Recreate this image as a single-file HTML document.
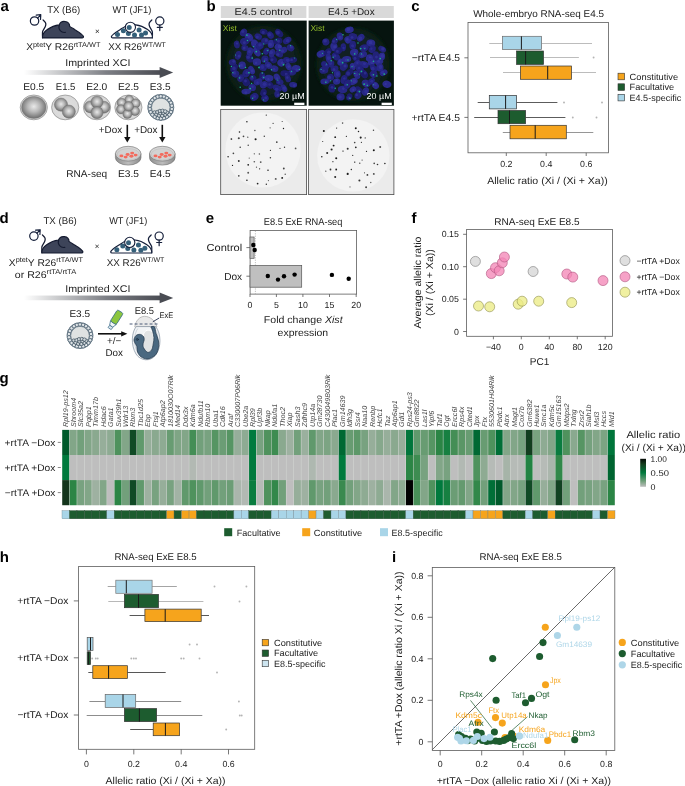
<!DOCTYPE html>
<html lang="en">
<head>
<meta charset="utf-8">
<title>Figure: Xist induction and imprinted XCI</title>
<style>
html,body{margin:0;padding:0;background:#fff;}
body{width:685px;height:786px;overflow:hidden;}
svg{display:block;font-family:"Liberation Sans",sans-serif;}
</style>
</head>
<body>
<svg width="685" height="786" viewBox="0 0 685 786" text-rendering="geometricPrecision">
<defs>
<linearGradient id="garrow" x1="0" y1="0" x2="1" y2="0">
<stop offset="0" stop-color="#ffffff"/><stop offset="0.25" stop-color="#c9cacc"/><stop offset="0.6" stop-color="#7d7f85"/><stop offset="1" stop-color="#4a4c53"/></linearGradient>
<radialGradient id="gcell" cx="0.5" cy="0.46" r="0.56"><stop offset="0" stop-color="#e9e9e9"/><stop offset="0.45" stop-color="#b8b8b8"/><stop offset="1" stop-color="#696969"/></radialGradient>
<radialGradient id="gzona" cx="0.5" cy="0.5" r="0.5"><stop offset="0" stop-color="#e0e0e0"/><stop offset="0.9" stop-color="#dadada"/><stop offset="1" stop-color="#cfcfcf"/></radialGradient>
<linearGradient id="gdish" x1="0" y1="0" x2="1" y2="0"><stop offset="0" stop-color="#8d8d8d"/><stop offset="0.5" stop-color="#bdbdbd"/><stop offset="1" stop-color="#8a8a8a"/></linearGradient>
<radialGradient id="gdishtop" cx="0.5" cy="0.45" r="0.6"><stop offset="0" stop-color="#ececec"/><stop offset="1" stop-color="#c9c9c9"/></radialGradient>

<filter id="blur1" x="-20%" y="-20%" width="140%" height="140%"><feGaussianBlur stdDeviation="0.75"/></filter>
<filter id="blur05" x="-30%" y="-30%" width="160%" height="160%"><feGaussianBlur stdDeviation="0.45"/></filter>
<filter id="blur3" x="-20%" y="-20%" width="140%" height="140%"><feGaussianBlur stdDeviation="2.2"/></filter>
<clipPath id="cb1"><rect x="220.7" y="20.6" width="85.9" height="85.1"/></clipPath>
<clipPath id="cb2"><rect x="308.6" y="20.6" width="85.3" height="85.1"/></clipPath>
<clipPath id="cb3"><rect x="220.7" y="109.4" width="85.9" height="85.2"/></clipPath>
<clipPath id="cb4"><rect x="308.6" y="109.4" width="85.3" height="85.2"/></clipPath>

<linearGradient id="gbar" x1="0" y1="0" x2="0" y2="1"><stop offset="0" stop-color="#050a06"/><stop offset="0.2" stop-color="#15401f"/><stop offset="0.5" stop-color="#007a3d"/><stop offset="0.8" stop-color="#72a07b"/><stop offset="1" stop-color="#bebebe"/></linearGradient>
<clipPath id="ci"><rect x="432.3" y="567.6" width="182.5" height="182.8"/></clipPath>
</defs>
<rect x="0" y="0" width="685" height="786" fill="#fff"/>
<text x="0.60" y="10.90" font-size="15" fill="#000" font-weight="bold">a</text>
<text x="47.20" y="13.00" font-size="9.8" fill="#222" textLength="33.00" lengthAdjust="spacingAndGlyphs">TX (B6)</text>
<text x="112.60" y="13.00" font-size="9.8" fill="#222" textLength="38.80" lengthAdjust="spacingAndGlyphs">WT (JF1)</text>
<g fill="none" stroke="#151f3a" stroke-width="1.2" stroke-linecap="round" stroke-linejoin="round"><circle cx="34.55" cy="21.0" r="4.2"/><path d="M37.6,18.1 L40.8,14.9 M36.2,15.1 L40.8,14.7 L40.5,19.4"/></g>
<g transform="translate(42.3,20.0)"><path d="M0.8,-0.1 C2.4,1.2 3.9,3 3.5,4.8 C3,8 0.5,9.6 0.2,12.2 C0.1,14 0.2,16 0.3,17.6" fill="none" stroke="#151b30" stroke-width="1.25" stroke-linecap="round"/><path d="M0.2,17.9 C0.0,14.5 1.6,11.9 5.0,9.6 C8.6,7.0 12.6,5.3 16.9,4.9 A5.4,5.1 0 0 1 27.4,6.4 C29.2,7.4 31,8.7 32.9,9.9 C35,11.3 37,12.6 38.8,13.9 C40,14.9 41.3,16 41.2,17 C41.1,17.7 40.6,17.9 40,17.9 Z" fill="#3d4459" stroke="#151b30" stroke-width="1.2" stroke-linejoin="round"/><path d="M17.0,5.2 A5.4,5.3 0 0 0 23.2,12.3" fill="none" stroke="#151b30" stroke-width="1.1" stroke-linecap="round"/></g>
<text x="97.40" y="33.60" font-size="8" text-anchor="middle" fill="#222">×</text>
<g transform="translate(152.6,20.0) scale(-1,1)"><path d="M0.8,-0.1 C2.4,1.2 3.9,3 3.5,4.8 C3,8 0.5,9.6 0.2,12.2 C0.1,14 0.2,16 0.3,17.6" fill="none" stroke="#151f3a" stroke-width="1.25" stroke-linecap="round"/><path d="M0.2,17.9 C0.0,14.5 1.6,11.9 5.0,9.6 C8.6,7.0 12.6,5.3 16.9,4.9 C20,4.6 24,5.0 27.4,6.4 C29.2,7.4 31,8.7 32.9,9.9 C35,11.3 37,12.6 38.8,13.9 C40,14.9 41.3,16 41.2,17 C41.1,17.7 40.6,17.9 40,17.9 Z" fill="#ffffff" stroke="#151f3a" stroke-width="1.2" stroke-linejoin="round"/><clipPath id="mclip20"><path d="M0.2,17.9 C0.0,14.5 1.6,11.9 5.0,9.6 C8.6,7.0 12.6,5.3 16.9,4.9 A5.4,5.1 0 0 1 27.4,6.4 C29.2,7.4 31,8.7 32.9,9.9 C35,11.3 37,12.6 38.8,13.9 C40,14.9 41.3,16 41.2,17 C41.1,17.7 40.6,17.9 40,17.9 Z"/></clipPath><g clip-path="url(#mclip20)"><circle cx="29.2" cy="10.8" r="2.5" fill="#35607a"/><circle cx="35.1" cy="14.6" r="2.5" fill="#35607a"/><circle cx="24.2" cy="13.4" r="2.5" fill="#35607a"/><circle cx="18.1" cy="14.9" r="2.5" fill="#35607a"/><circle cx="13.5" cy="9.9" r="2.5" fill="#35607a"/><circle cx="11.1" cy="15.1" r="2.5" fill="#35607a"/><circle cx="7.1" cy="13.1" r="2.5" fill="#35607a"/></g><circle cx="22.2" cy="7.3" r="5.1" fill="#ffffff" stroke="#151f3a" stroke-width="1.1"/><circle cx="23.4" cy="7.6" r="2.5" fill="#35607a"/></g>
<g fill="none" stroke="#151f3a" stroke-width="1.2" stroke-linecap="round"><circle cx="159.8" cy="21.0" r="4.1"/><path d="M159.8,25.1 L159.8,30.6 M157.3,27.4 L162.3,27.4"/></g>
<text x="26.20" y="50.40" font-size="9.8" fill="#222" textLength="6.85" lengthAdjust="spacingAndGlyphs">X</text>
<text x="33.05" y="46.50" font-size="7.0" fill="#222" textLength="12.24" lengthAdjust="spacingAndGlyphs">ptet</text>
<text x="45.29" y="50.40" font-size="9.8" fill="#222" textLength="28.36" lengthAdjust="spacingAndGlyphs">Y R26</text>
<text x="73.65" y="46.50" font-size="7.0" fill="#222" textLength="26.75" lengthAdjust="spacingAndGlyphs">rtTA/WT</text>
<text x="108.20" y="50.40" font-size="9.8" fill="#222" textLength="33.84" lengthAdjust="spacingAndGlyphs">XX R26</text>
<text x="142.04" y="46.50" font-size="7.0" fill="#222" textLength="23.76" lengthAdjust="spacingAndGlyphs">WT/WT</text>
<text x="65.20" y="66.20" font-size="9.8" fill="#222" textLength="65.20" lengthAdjust="spacingAndGlyphs">Imprinted XCI</text>
<rect x="24" y="70.15" width="137" height="4.7" fill="url(#garrow)"/>
<path d="M159.6,67.1 L173.2,72.5 L159.6,77.9 Z" fill="#4a4c53"/>
<text x="23.20" y="89.80" font-size="9.8" fill="#222" textLength="21.00" lengthAdjust="spacingAndGlyphs">E0.5</text>
<text x="55.80" y="89.80" font-size="9.8" fill="#222" textLength="19.60" lengthAdjust="spacingAndGlyphs">E1.5</text>
<text x="86.20" y="89.80" font-size="9.8" fill="#222" textLength="21.00" lengthAdjust="spacingAndGlyphs">E2.0</text>
<text x="118.00" y="89.80" font-size="9.8" fill="#222" textLength="21.00" lengthAdjust="spacingAndGlyphs">E2.5</text>
<text x="149.80" y="89.80" font-size="9.8" fill="#222" textLength="20.80" lengthAdjust="spacingAndGlyphs">E3.5</text>
<ellipse cx="33.80" cy="107.40" rx="13.60" ry="12.40" fill="url(#gzona)" stroke="#8e8e8e" stroke-width="0.7"/>
<ellipse cx="33.80" cy="107.40" rx="12.20" ry="11.00" fill="url(#gcell)" stroke="#7a7a7a" stroke-width="0.5"/>
<ellipse cx="65.20" cy="107.40" rx="13.60" ry="12.40" fill="url(#gzona)" stroke="#8e8e8e" stroke-width="0.7"/>
<circle cx="61.00" cy="104.60" r="6.60" fill="url(#gcell)" stroke="#6e6e6e" stroke-width="0.45"/>
<circle cx="68.80" cy="111.60" r="6.60" fill="url(#gcell)" stroke="#6e6e6e" stroke-width="0.45"/>
<ellipse cx="97.00" cy="107.40" rx="13.60" ry="12.40" fill="url(#gzona)" stroke="#8e8e8e" stroke-width="0.7"/>
<circle cx="90.30" cy="106.90" r="6.00" fill="url(#gcell)" stroke="#6e6e6e" stroke-width="0.45"/>
<circle cx="103.90" cy="107.20" r="6.00" fill="url(#gcell)" stroke="#6e6e6e" stroke-width="0.45"/>
<circle cx="97.00" cy="102.00" r="6.10" fill="url(#gcell)" stroke="#6e6e6e" stroke-width="0.45"/>
<circle cx="97.00" cy="112.60" r="6.10" fill="url(#gcell)" stroke="#6e6e6e" stroke-width="0.45"/>
<ellipse cx="128.40" cy="107.40" rx="13.60" ry="12.40" fill="url(#gzona)" stroke="#8e8e8e" stroke-width="0.7"/>
<circle cx="129.20" cy="99.90" r="4.60" fill="url(#gcell)" stroke="#6e6e6e" stroke-width="0.45"/>
<circle cx="121.60" cy="102.80" r="4.60" fill="url(#gcell)" stroke="#6e6e6e" stroke-width="0.45"/>
<circle cx="135.60" cy="103.40" r="4.60" fill="url(#gcell)" stroke="#6e6e6e" stroke-width="0.45"/>
<circle cx="121.00" cy="109.30" r="4.60" fill="url(#gcell)" stroke="#6e6e6e" stroke-width="0.45"/>
<circle cx="135.00" cy="111.00" r="4.60" fill="url(#gcell)" stroke="#6e6e6e" stroke-width="0.45"/>
<circle cx="127.40" cy="113.90" r="4.60" fill="url(#gcell)" stroke="#6e6e6e" stroke-width="0.45"/>
<circle cx="128.60" cy="106.40" r="4.90" fill="url(#gcell)" stroke="#6e6e6e" stroke-width="0.45"/>
<circle cx="160.80" cy="107.40" r="13.00" fill="#c9d1d6" stroke="#3f5566" stroke-width="0.7"/>
<circle cx="160.80" cy="107.40" r="9.30" fill="#dfe2e2" stroke="#3f5566" stroke-width="0.6"/>
<circle cx="171.84" cy="108.99" r="1.70" fill="#dfe4e7" stroke="#3f5566" stroke-width="0.65"/>
<circle cx="170.94" cy="112.03" r="1.70" fill="#dfe4e7" stroke="#3f5566" stroke-width="0.65"/>
<circle cx="169.23" cy="114.70" r="1.70" fill="#dfe4e7" stroke="#3f5566" stroke-width="0.65"/>
<circle cx="166.83" cy="116.78" r="1.70" fill="#dfe4e7" stroke="#3f5566" stroke-width="0.65"/>
<circle cx="163.94" cy="118.10" r="1.70" fill="#dfe4e7" stroke="#3f5566" stroke-width="0.65"/>
<circle cx="160.80" cy="118.55" r="1.70" fill="#dfe4e7" stroke="#3f5566" stroke-width="0.65"/>
<circle cx="157.66" cy="118.10" r="1.70" fill="#dfe4e7" stroke="#3f5566" stroke-width="0.65"/>
<circle cx="154.77" cy="116.78" r="1.70" fill="#dfe4e7" stroke="#3f5566" stroke-width="0.65"/>
<circle cx="152.37" cy="114.70" r="1.70" fill="#dfe4e7" stroke="#3f5566" stroke-width="0.65"/>
<circle cx="150.66" cy="112.03" r="1.70" fill="#dfe4e7" stroke="#3f5566" stroke-width="0.65"/>
<circle cx="149.76" cy="108.99" r="1.70" fill="#dfe4e7" stroke="#3f5566" stroke-width="0.65"/>
<circle cx="149.76" cy="105.81" r="1.70" fill="#dfe4e7" stroke="#3f5566" stroke-width="0.65"/>
<circle cx="150.66" cy="102.77" r="1.70" fill="#dfe4e7" stroke="#3f5566" stroke-width="0.65"/>
<circle cx="152.37" cy="100.10" r="1.70" fill="#dfe4e7" stroke="#3f5566" stroke-width="0.65"/>
<circle cx="154.77" cy="98.02" r="1.70" fill="#dfe4e7" stroke="#3f5566" stroke-width="0.65"/>
<circle cx="157.66" cy="96.70" r="1.70" fill="#dfe4e7" stroke="#3f5566" stroke-width="0.65"/>
<circle cx="160.80" cy="96.25" r="1.70" fill="#dfe4e7" stroke="#3f5566" stroke-width="0.65"/>
<circle cx="163.94" cy="96.70" r="1.70" fill="#dfe4e7" stroke="#3f5566" stroke-width="0.65"/>
<circle cx="166.83" cy="98.02" r="1.70" fill="#dfe4e7" stroke="#3f5566" stroke-width="0.65"/>
<circle cx="169.23" cy="100.10" r="1.70" fill="#dfe4e7" stroke="#3f5566" stroke-width="0.65"/>
<circle cx="170.94" cy="102.77" r="1.70" fill="#dfe4e7" stroke="#3f5566" stroke-width="0.65"/>
<circle cx="171.84" cy="105.81" r="1.70" fill="#dfe4e7" stroke="#3f5566" stroke-width="0.65"/>
<circle cx="154.60" cy="112.40" r="1.70" fill="#cfd6da" stroke="#2f4252" stroke-width="0.65"/>
<circle cx="156.40" cy="114.40" r="1.70" fill="#cfd6da" stroke="#2f4252" stroke-width="0.65"/>
<circle cx="159.00" cy="115.60" r="1.70" fill="#cfd6da" stroke="#2f4252" stroke-width="0.65"/>
<circle cx="162.20" cy="115.80" r="1.70" fill="#cfd6da" stroke="#2f4252" stroke-width="0.65"/>
<circle cx="165.20" cy="114.60" r="1.70" fill="#cfd6da" stroke="#2f4252" stroke-width="0.65"/>
<circle cx="167.00" cy="112.60" r="1.70" fill="#cfd6da" stroke="#2f4252" stroke-width="0.65"/>
<circle cx="157.40" cy="112.00" r="1.70" fill="#cfd6da" stroke="#2f4252" stroke-width="0.65"/>
<circle cx="160.20" cy="113.20" r="1.70" fill="#cfd6da" stroke="#2f4252" stroke-width="0.65"/>
<circle cx="163.20" cy="112.80" r="1.70" fill="#cfd6da" stroke="#2f4252" stroke-width="0.65"/>
<circle cx="159.80" cy="111.00" r="1.70" fill="#cfd6da" stroke="#2f4252" stroke-width="0.65"/>
<circle cx="162.60" cy="110.80" r="1.70" fill="#cfd6da" stroke="#2f4252" stroke-width="0.65"/>
<circle cx="165.20" cy="111.40" r="1.70" fill="#cfd6da" stroke="#2f4252" stroke-width="0.65"/>
<text x="98.80" y="133.40" font-size="9.8" fill="#222" textLength="23.40" lengthAdjust="spacingAndGlyphs">+Dox</text>
<text x="134.20" y="133.40" font-size="9.8" fill="#222" textLength="23.40" lengthAdjust="spacingAndGlyphs">+Dox</text>
<line x1="127.30" y1="124.80" x2="127.30" y2="139.60" stroke="#111" stroke-width="1.6" />
<path d="M124.1,137.0 L127.3,142.6 L130.5,137.0 Z" fill="#111"/>
<line x1="162.30" y1="124.80" x2="162.30" y2="139.60" stroke="#111" stroke-width="1.6" />
<path d="M159.1,137.0 L162.3,142.6 L165.5,137.0 Z" fill="#111"/>
<path d="M115.4,153.7 L115.4,157.7 A12.8,7.4 0 0 0 141.0,157.7 L141.0,153.7 Z" fill="url(#gdish)" stroke="#6e6e6e" stroke-width="0.6"/>
<ellipse cx="128.20" cy="153.70" rx="12.80" ry="7.40" fill="url(#gdishtop)" stroke="#6e6e6e" stroke-width="0.6"/>
<ellipse cx="128.20" cy="154.30" rx="11.00" ry="5.80" fill="#d2d2d2" stroke="#b0b0b0" stroke-width="0.4"/>
<ellipse cx="121.40" cy="155.90" rx="2.00" ry="1.45" fill="#f26b5e"/>
<ellipse cx="125.60" cy="157.10" rx="2.00" ry="1.45" fill="#f26b5e"/>
<ellipse cx="127.60" cy="154.50" rx="2.00" ry="1.45" fill="#f26b5e"/>
<ellipse cx="131.40" cy="156.30" rx="2.00" ry="1.45" fill="#f26b5e"/>
<ellipse cx="132.20" cy="153.10" rx="2.00" ry="1.45" fill="#f26b5e"/>
<ellipse cx="135.60" cy="155.10" rx="2.00" ry="1.45" fill="#f26b5e"/>
<path d="M149.5,153.7 L149.5,157.7 A12.8,7.4 0 0 0 175.1,157.7 L175.1,153.7 Z" fill="url(#gdish)" stroke="#6e6e6e" stroke-width="0.6"/>
<ellipse cx="162.30" cy="153.70" rx="12.80" ry="7.40" fill="url(#gdishtop)" stroke="#6e6e6e" stroke-width="0.6"/>
<ellipse cx="162.30" cy="154.30" rx="11.00" ry="5.80" fill="#d2d2d2" stroke="#b0b0b0" stroke-width="0.4"/>
<ellipse cx="155.50" cy="155.90" rx="2.00" ry="1.45" fill="#f26b5e"/>
<ellipse cx="159.70" cy="157.10" rx="2.00" ry="1.45" fill="#f26b5e"/>
<ellipse cx="161.70" cy="154.50" rx="2.00" ry="1.45" fill="#f26b5e"/>
<ellipse cx="165.50" cy="156.30" rx="2.00" ry="1.45" fill="#f26b5e"/>
<ellipse cx="166.30" cy="153.10" rx="2.00" ry="1.45" fill="#f26b5e"/>
<ellipse cx="169.70" cy="155.10" rx="2.00" ry="1.45" fill="#f26b5e"/>
<text x="66.20" y="176.80" font-size="9.8" fill="#222" textLength="41.00" lengthAdjust="spacingAndGlyphs">RNA-seq</text>
<text x="118.00" y="176.80" font-size="9.8" fill="#222" textLength="21.00" lengthAdjust="spacingAndGlyphs">E3.5</text>
<text x="149.80" y="176.80" font-size="9.8" fill="#222" textLength="20.80" lengthAdjust="spacingAndGlyphs">E4.5</text>
<text x="-0.60" y="223.20" font-size="15" fill="#000" font-weight="bold">d</text>
<text x="43.40" y="224.40" font-size="9.8" fill="#222" textLength="33.40" lengthAdjust="spacingAndGlyphs">TX (B6)</text>
<text x="109.20" y="224.40" font-size="9.8" fill="#222" textLength="38.00" lengthAdjust="spacingAndGlyphs">WT (JF1)</text>
<g fill="none" stroke="#151f3a" stroke-width="1.2" stroke-linecap="round" stroke-linejoin="round"><circle cx="33.9" cy="236.1" r="4.2"/><path d="M37.0,233.2 L40.1,230.0 M35.6,230.2 L40.2,229.8 L39.9,234.5"/></g>
<g transform="translate(41.65,235.1)"><path d="M0.8,-0.1 C2.4,1.2 3.9,3 3.5,4.8 C3,8 0.5,9.6 0.2,12.2 C0.1,14 0.2,16 0.3,17.6" fill="none" stroke="#151b30" stroke-width="1.25" stroke-linecap="round"/><path d="M0.2,17.9 C0.0,14.5 1.6,11.9 5.0,9.6 C8.6,7.0 12.6,5.3 16.9,4.9 A5.4,5.1 0 0 1 27.4,6.4 C29.2,7.4 31,8.7 32.9,9.9 C35,11.3 37,12.6 38.8,13.9 C40,14.9 41.3,16 41.2,17 C41.1,17.7 40.6,17.9 40,17.9 Z" fill="#3d4459" stroke="#151b30" stroke-width="1.2" stroke-linejoin="round"/><path d="M17.0,5.2 A5.4,5.3 0 0 0 23.2,12.3" fill="none" stroke="#151b30" stroke-width="1.1" stroke-linecap="round"/></g>
<text x="97.20" y="248.80" font-size="8" text-anchor="middle" fill="#222">×</text>
<g transform="translate(151.95,235.1) scale(-1,1)"><path d="M0.8,-0.1 C2.4,1.2 3.9,3 3.5,4.8 C3,8 0.5,9.6 0.2,12.2 C0.1,14 0.2,16 0.3,17.6" fill="none" stroke="#151f3a" stroke-width="1.25" stroke-linecap="round"/><path d="M0.2,17.9 C0.0,14.5 1.6,11.9 5.0,9.6 C8.6,7.0 12.6,5.3 16.9,4.9 C20,4.6 24,5.0 27.4,6.4 C29.2,7.4 31,8.7 32.9,9.9 C35,11.3 37,12.6 38.8,13.9 C40,14.9 41.3,16 41.2,17 C41.1,17.7 40.6,17.9 40,17.9 Z" fill="#ffffff" stroke="#151f3a" stroke-width="1.2" stroke-linejoin="round"/><clipPath id="mclip235"><path d="M0.2,17.9 C0.0,14.5 1.6,11.9 5.0,9.6 C8.6,7.0 12.6,5.3 16.9,4.9 A5.4,5.1 0 0 1 27.4,6.4 C29.2,7.4 31,8.7 32.9,9.9 C35,11.3 37,12.6 38.8,13.9 C40,14.9 41.3,16 41.2,17 C41.1,17.7 40.6,17.9 40,17.9 Z"/></clipPath><g clip-path="url(#mclip235)"><circle cx="29.2" cy="10.8" r="2.5" fill="#35607a"/><circle cx="35.1" cy="14.6" r="2.5" fill="#35607a"/><circle cx="24.2" cy="13.4" r="2.5" fill="#35607a"/><circle cx="18.1" cy="14.9" r="2.5" fill="#35607a"/><circle cx="13.5" cy="9.9" r="2.5" fill="#35607a"/><circle cx="11.1" cy="15.1" r="2.5" fill="#35607a"/><circle cx="7.1" cy="13.1" r="2.5" fill="#35607a"/></g><circle cx="22.2" cy="7.3" r="5.1" fill="#ffffff" stroke="#151f3a" stroke-width="1.1"/><circle cx="23.4" cy="7.6" r="2.5" fill="#35607a"/></g>
<g fill="none" stroke="#151f3a" stroke-width="1.2" stroke-linecap="round"><circle cx="159.15" cy="236.1" r="4.1"/><path d="M159.15,240.2 L159.15,245.7 M156.7,242.5 L161.7,242.5"/></g>
<text x="8.80" y="265.80" font-size="9.8" fill="#222" textLength="6.85" lengthAdjust="spacingAndGlyphs">X</text>
<text x="15.65" y="261.90" font-size="7.0" fill="#222" textLength="12.24" lengthAdjust="spacingAndGlyphs">ptet</text>
<text x="27.89" y="265.80" font-size="9.8" fill="#222" textLength="28.36" lengthAdjust="spacingAndGlyphs">Y R26</text>
<text x="56.25" y="261.90" font-size="7.0" fill="#222" textLength="26.75" lengthAdjust="spacingAndGlyphs">rtTA/WT</text>
<text x="14.80" y="278.20" font-size="9.8" fill="#222" textLength="31.82" lengthAdjust="spacingAndGlyphs">or R26</text>
<text x="46.62" y="274.30" font-size="7.0" fill="#222" textLength="29.58" lengthAdjust="spacingAndGlyphs">rtTA/rtTA</text>
<text x="106.80" y="265.80" font-size="9.8" fill="#222" textLength="33.84" lengthAdjust="spacingAndGlyphs">XX R26</text>
<text x="140.64" y="261.90" font-size="7.0" fill="#222" textLength="23.76" lengthAdjust="spacingAndGlyphs">WT/WT</text>
<text x="65.20" y="292.20" font-size="9.8" fill="#222" textLength="65.20" lengthAdjust="spacingAndGlyphs">Imprinted XCI</text>
<rect x="24" y="295.55" width="137" height="4.7" fill="url(#garrow)"/>
<path d="M159.6,292.5 L173.2,297.9 L159.6,303.3 Z" fill="#4a4c53"/>
<text x="69.40" y="317.40" font-size="9.8" fill="#222" textLength="20.60" lengthAdjust="spacingAndGlyphs">E3.5</text>
<circle cx="80.00" cy="335.60" r="13.00" fill="#c9d1d6" stroke="#3f5566" stroke-width="0.7"/>
<circle cx="80.00" cy="335.60" r="9.30" fill="#dfe2e2" stroke="#3f5566" stroke-width="0.6"/>
<circle cx="91.04" cy="337.19" r="1.70" fill="#dfe4e7" stroke="#3f5566" stroke-width="0.65"/>
<circle cx="90.14" cy="340.23" r="1.70" fill="#dfe4e7" stroke="#3f5566" stroke-width="0.65"/>
<circle cx="88.43" cy="342.90" r="1.70" fill="#dfe4e7" stroke="#3f5566" stroke-width="0.65"/>
<circle cx="86.03" cy="344.98" r="1.70" fill="#dfe4e7" stroke="#3f5566" stroke-width="0.65"/>
<circle cx="83.14" cy="346.30" r="1.70" fill="#dfe4e7" stroke="#3f5566" stroke-width="0.65"/>
<circle cx="80.00" cy="346.75" r="1.70" fill="#dfe4e7" stroke="#3f5566" stroke-width="0.65"/>
<circle cx="76.86" cy="346.30" r="1.70" fill="#dfe4e7" stroke="#3f5566" stroke-width="0.65"/>
<circle cx="73.97" cy="344.98" r="1.70" fill="#dfe4e7" stroke="#3f5566" stroke-width="0.65"/>
<circle cx="71.57" cy="342.90" r="1.70" fill="#dfe4e7" stroke="#3f5566" stroke-width="0.65"/>
<circle cx="69.86" cy="340.23" r="1.70" fill="#dfe4e7" stroke="#3f5566" stroke-width="0.65"/>
<circle cx="68.96" cy="337.19" r="1.70" fill="#dfe4e7" stroke="#3f5566" stroke-width="0.65"/>
<circle cx="68.96" cy="334.01" r="1.70" fill="#dfe4e7" stroke="#3f5566" stroke-width="0.65"/>
<circle cx="69.86" cy="330.97" r="1.70" fill="#dfe4e7" stroke="#3f5566" stroke-width="0.65"/>
<circle cx="71.57" cy="328.30" r="1.70" fill="#dfe4e7" stroke="#3f5566" stroke-width="0.65"/>
<circle cx="73.97" cy="326.22" r="1.70" fill="#dfe4e7" stroke="#3f5566" stroke-width="0.65"/>
<circle cx="76.86" cy="324.90" r="1.70" fill="#dfe4e7" stroke="#3f5566" stroke-width="0.65"/>
<circle cx="80.00" cy="324.45" r="1.70" fill="#dfe4e7" stroke="#3f5566" stroke-width="0.65"/>
<circle cx="83.14" cy="324.90" r="1.70" fill="#dfe4e7" stroke="#3f5566" stroke-width="0.65"/>
<circle cx="86.03" cy="326.22" r="1.70" fill="#dfe4e7" stroke="#3f5566" stroke-width="0.65"/>
<circle cx="88.43" cy="328.30" r="1.70" fill="#dfe4e7" stroke="#3f5566" stroke-width="0.65"/>
<circle cx="90.14" cy="330.97" r="1.70" fill="#dfe4e7" stroke="#3f5566" stroke-width="0.65"/>
<circle cx="91.04" cy="334.01" r="1.70" fill="#dfe4e7" stroke="#3f5566" stroke-width="0.65"/>
<circle cx="73.80" cy="340.60" r="1.70" fill="#cfd6da" stroke="#2f4252" stroke-width="0.65"/>
<circle cx="75.60" cy="342.60" r="1.70" fill="#cfd6da" stroke="#2f4252" stroke-width="0.65"/>
<circle cx="78.20" cy="343.80" r="1.70" fill="#cfd6da" stroke="#2f4252" stroke-width="0.65"/>
<circle cx="81.40" cy="344.00" r="1.70" fill="#cfd6da" stroke="#2f4252" stroke-width="0.65"/>
<circle cx="84.40" cy="342.80" r="1.70" fill="#cfd6da" stroke="#2f4252" stroke-width="0.65"/>
<circle cx="86.20" cy="340.80" r="1.70" fill="#cfd6da" stroke="#2f4252" stroke-width="0.65"/>
<circle cx="76.60" cy="340.20" r="1.70" fill="#cfd6da" stroke="#2f4252" stroke-width="0.65"/>
<circle cx="79.40" cy="341.40" r="1.70" fill="#cfd6da" stroke="#2f4252" stroke-width="0.65"/>
<circle cx="82.40" cy="341.00" r="1.70" fill="#cfd6da" stroke="#2f4252" stroke-width="0.65"/>
<circle cx="79.00" cy="339.20" r="1.70" fill="#cfd6da" stroke="#2f4252" stroke-width="0.65"/>
<circle cx="81.80" cy="339.00" r="1.70" fill="#cfd6da" stroke="#2f4252" stroke-width="0.65"/>
<circle cx="84.40" cy="339.60" r="1.70" fill="#cfd6da" stroke="#2f4252" stroke-width="0.65"/>
<line x1="98.00" y1="333.80" x2="122.50" y2="333.80" stroke="#111" stroke-width="1.6" />
<path d="M121.2,331.2 L127.4,333.8 L121.2,336.4 Z" fill="#111"/>
<text x="107.00" y="343.80" font-size="9.8" fill="#222" textLength="14.20" lengthAdjust="spacingAndGlyphs">+/−</text>
<text x="105.50" y="355.90" font-size="9.8" fill="#222" textLength="17.50" lengthAdjust="spacingAndGlyphs">Dox</text>
<g transform="translate(116.7,317.4) rotate(32)"><path d="M-3.45,6.2 L-1.8,10.4 L1.8,10.4 L3.45,6.2 Z" fill="#f2f6f8" stroke="#3a6b8a" stroke-width="0.7" stroke-linejoin="round"/><rect x="-1.9" y="10.4" width="3.8" height="2.9" rx="0.5" fill="#dce6ec" stroke="#3a6b8a" stroke-width="0.7"/><rect x="-3.45" y="-6.9" width="6.9" height="13.4" rx="1.5" fill="#8cc63f" stroke="#3a6b8a" stroke-width="0.75"/></g>
<text x="134.70" y="313.50" font-size="9.8" fill="#222" textLength="19.20" lengthAdjust="spacingAndGlyphs">E8.5</text>
<text x="159.60" y="318.40" font-size="8.2" fill="#222" textLength="13.80" lengthAdjust="spacingAndGlyphs">ExE</text>
<g stroke-linejoin="round" stroke-linecap="round"><path d="M134.8,326.6 C135.6,320.6 139.8,316.4 144.6,316.3 C149.8,316.4 155.4,320.4 156.9,326.6 Z" fill="#e9e9e9" stroke="#a6a6a6" stroke-width="0.7"/><path d="M136.0,326.9 C131.6,332 130.6,345 136.0,354.0 C140.4,361.0 150.4,362.0 155.6,355.2 C161.4,347.6 161.4,334 156.0,326.9 Z" fill="#f2f4f6" stroke="#8290a0" stroke-width="0.7"/><path d="M137.6,328.8 C133.8,334 133.2,345 137.8,352.8 C141.8,358.8 150.0,359.8 154.4,353.8 C159.2,347 159.2,335 155.0,328.8" fill="none" stroke="#aab6c2" stroke-width="0.5"/><path d="M146.4,330.6 C147.6,330.1 149.5,330.2 150.6,330.8 C151.7,331.4 152.5,331.8 153.0,334.0 C153.5,336.2 154.0,341.2 153.8,344.0 C153.6,346.8 152.8,349.1 151.8,350.6 C150.8,352.1 149.0,353.4 147.6,353.0 C146.2,352.6 144.0,350.2 143.2,348.0 C142.4,345.8 142.7,342.3 142.8,340.0 C142.9,337.7 143.0,335.6 143.6,334.0 C144.2,332.4 145.2,331.1 146.4,330.6 Z" fill="#e1e3e4" stroke="#ffffff" stroke-width="0.9"/><path d="M151.3,327.0 C151.6,326.3 153.8,326.0 154.6,327.0 C155.4,328.0 155.2,330.7 155.9,333.0 C156.6,335.3 158.1,338.3 158.5,341.0 C158.9,343.7 158.8,346.6 158.2,349.0 C157.6,351.4 156.8,353.7 155.0,355.4 C153.2,357.1 149.9,358.8 147.6,359.0 C145.3,359.2 142.7,358.0 141.0,356.8 C139.3,355.6 138.3,353.7 137.6,352.0 C136.9,350.3 137.2,347.9 136.8,346.4 C136.4,344.9 135.5,344.3 135.0,343.2 C134.5,342.1 133.8,340.9 134.0,339.6 C134.2,338.3 135.1,336.3 136.2,335.4 C137.3,334.5 139.2,334.2 140.4,334.4 C141.7,334.6 143.1,335.8 143.7,336.8 C144.3,337.8 144.2,339.3 144.1,340.4 C144.0,341.5 143.3,342.0 143.2,343.2 C143.1,344.4 142.8,346.1 143.5,347.6 C144.2,349.1 146.2,351.9 147.6,352.3 C148.9,352.7 150.7,351.4 151.6,350.0 C152.5,348.6 152.8,346.1 153.2,344.0 C153.6,341.9 154.0,339.7 153.9,337.6 C153.8,335.5 153.1,333.2 152.7,331.4 C152.3,329.6 151.0,327.7 151.3,327.0 Z" fill="#4a6880" stroke="#1f3347" stroke-width="0.7"/><circle cx="137.3" cy="339.4" r="1.0" fill="#4a6880" stroke="#16283c" stroke-width="0.7"/></g>
<line x1="129.60" y1="324.00" x2="158.00" y2="324.00" stroke="#4b5b78" stroke-width="1.2" stroke-dasharray="2.9 2.1"/>
<line x1="152.80" y1="321.80" x2="159.20" y2="318.00" stroke="#1f2a48" stroke-width="0.9" />
<text x="206.60" y="10.90" font-size="15" fill="#000" font-weight="bold">b</text>
<rect x="220.80" y="6.00" width="85.60" height="12.00" fill="#d9d9d9"/>
<rect x="308.60" y="6.00" width="85.20" height="12.00" fill="#d9d9d9"/>
<text x="234.60" y="15.40" font-size="9.8" fill="#222" textLength="57.60" lengthAdjust="spacingAndGlyphs">E4.5 control</text>
<text x="328.00" y="15.40" font-size="9.8" fill="#222" textLength="46.60" lengthAdjust="spacingAndGlyphs">E4.5 +Dox</text>
<rect x="220.70" y="20.60" width="86.00" height="85.10" fill="#06140f"/>
<g clip-path="url(#cb1)"><circle cx="264.0" cy="63.5" r="37.5" fill="#0b2119" filter="url(#blur3)"/><circle cx="264.0" cy="63.5" r="32.5" fill="#12123f" fill-opacity="0.35" filter="url(#blur3)"/><g filter="url(#blur1)"><ellipse cx="243.5" cy="32.5" rx="4.1" ry="3.2" fill="#222278" transform="rotate(127 243.5 32.5)"/><circle cx="242.8" cy="31.4" r="1.6" fill="#3838a8" fill-opacity="0.5"/><ellipse cx="248.9" cy="37.2" rx="4.8" ry="3.7" fill="#2a2a8c" transform="rotate(43 248.9 37.2)"/><circle cx="248.8" cy="36.4" r="1.7" fill="#3838a8" fill-opacity="0.5"/><ellipse cx="263.7" cy="31.8" rx="4.0" ry="2.9" fill="#1d1d6c" transform="rotate(9 263.7 31.8)"/><circle cx="263.1" cy="32.4" r="1.6" fill="#3838a8" fill-opacity="0.5"/><ellipse cx="279.1" cy="33.1" rx="4.8" ry="3.1" fill="#1d1d6c" transform="rotate(45 279.1 33.1)"/><circle cx="277.9" cy="32.8" r="2.0" fill="#3838a8" fill-opacity="0.5"/><ellipse cx="236.8" cy="44.5" rx="3.9" ry="2.9" fill="#222278" transform="rotate(78 236.8 44.5)"/><circle cx="237.0" cy="43.5" r="1.2" fill="#3838a8" fill-opacity="0.5"/><ellipse cx="244.9" cy="47.9" rx="3.6" ry="3.0" fill="#222278" transform="rotate(7 244.9 47.9)"/><circle cx="244.1" cy="47.9" r="1.5" fill="#3838a8" fill-opacity="0.5"/><ellipse cx="254.9" cy="43.9" rx="4.8" ry="3.6" fill="#2a2a8c" transform="rotate(61 254.9 43.9)"/><circle cx="256.0" cy="44.8" r="1.2" fill="#3838a8" fill-opacity="0.5"/><ellipse cx="265.0" cy="41.2" rx="3.9" ry="3.4" fill="#222278" transform="rotate(170 265.0 41.2)"/><circle cx="266.2" cy="40.5" r="1.5" fill="#3838a8" fill-opacity="0.5"/><ellipse cx="271.0" cy="43.9" rx="4.2" ry="3.3" fill="#2a2a8c" transform="rotate(97 271.0 43.9)"/><circle cx="270.2" cy="44.4" r="1.8" fill="#3838a8" fill-opacity="0.5"/><ellipse cx="277.8" cy="41.2" rx="4.7" ry="3.4" fill="#1d1d6c" transform="rotate(166 277.8 41.2)"/><circle cx="278.5" cy="41.1" r="1.6" fill="#3838a8" fill-opacity="0.5"/><ellipse cx="287.2" cy="40.5" rx="4.5" ry="3.1" fill="#20207a" transform="rotate(148 287.2 40.5)"/><circle cx="287.7" cy="40.7" r="1.8" fill="#3838a8" fill-opacity="0.5"/><ellipse cx="290.5" cy="47.9" rx="4.0" ry="3.3" fill="#222278" transform="rotate(28 290.5 47.9)"/><circle cx="291.4" cy="47.0" r="1.8" fill="#3838a8" fill-opacity="0.5"/><ellipse cx="238.1" cy="55.3" rx="4.4" ry="3.1" fill="#222278" transform="rotate(108 238.1 55.3)"/><circle cx="239.1" cy="56.1" r="1.6" fill="#3838a8" fill-opacity="0.5"/><ellipse cx="249.6" cy="58.0" rx="4.8" ry="3.5" fill="#1d1d6c" transform="rotate(60 249.6 58.0)"/><circle cx="248.3" cy="57.3" r="1.8" fill="#3838a8" fill-opacity="0.5"/><ellipse cx="256.9" cy="51.9" rx="4.8" ry="3.1" fill="#2a2a8c" transform="rotate(56 256.9 51.9)"/><circle cx="255.9" cy="52.3" r="1.4" fill="#3838a8" fill-opacity="0.5"/><ellipse cx="266.3" cy="51.3" rx="3.6" ry="3.0" fill="#20207a" transform="rotate(116 266.3 51.3)"/><circle cx="267.6" cy="50.4" r="1.4" fill="#3838a8" fill-opacity="0.5"/><ellipse cx="265.0" cy="59.3" rx="3.8" ry="3.7" fill="#20207a" transform="rotate(93 265.0 59.3)"/><circle cx="265.7" cy="59.5" r="1.8" fill="#3838a8" fill-opacity="0.5"/><ellipse cx="279.1" cy="53.9" rx="4.2" ry="3.0" fill="#222278" transform="rotate(32 279.1 53.9)"/><circle cx="277.9" cy="54.6" r="1.7" fill="#3838a8" fill-opacity="0.5"/><ellipse cx="292.5" cy="60.0" rx="4.7" ry="2.9" fill="#1d1d6c" transform="rotate(170 292.5 60.0)"/><circle cx="291.5" cy="59.9" r="1.4" fill="#3838a8" fill-opacity="0.5"/><ellipse cx="234.1" cy="68.0" rx="4.7" ry="3.4" fill="#1d1d6c" transform="rotate(116 234.1 68.0)"/><circle cx="233.9" cy="68.4" r="1.8" fill="#3838a8" fill-opacity="0.5"/><ellipse cx="242.2" cy="65.4" rx="3.9" ry="3.7" fill="#2a2a8c" transform="rotate(80 242.2 65.4)"/><circle cx="241.4" cy="65.4" r="1.6" fill="#3838a8" fill-opacity="0.5"/><ellipse cx="251.6" cy="70.1" rx="4.5" ry="2.9" fill="#2a2a8c" transform="rotate(62 251.6 70.1)"/><circle cx="252.2" cy="71.0" r="1.7" fill="#3838a8" fill-opacity="0.5"/><ellipse cx="263.0" cy="67.4" rx="4.0" ry="3.6" fill="#20207a" transform="rotate(12 263.0 67.4)"/><circle cx="262.2" cy="67.0" r="2.0" fill="#3838a8" fill-opacity="0.5"/><ellipse cx="274.4" cy="68.7" rx="4.0" ry="3.2" fill="#272784" transform="rotate(15 274.4 68.7)"/><circle cx="273.9" cy="69.3" r="1.4" fill="#3838a8" fill-opacity="0.5"/><ellipse cx="281.1" cy="62.7" rx="3.8" ry="3.7" fill="#2a2a8c" transform="rotate(132 281.1 62.7)"/><circle cx="282.2" cy="62.8" r="1.5" fill="#3838a8" fill-opacity="0.5"/><ellipse cx="295.9" cy="68.7" rx="4.8" ry="3.7" fill="#2a2a8c" transform="rotate(171 295.9 68.7)"/><circle cx="296.9" cy="69.8" r="1.6" fill="#3838a8" fill-opacity="0.5"/><ellipse cx="291.9" cy="72.7" rx="4.3" ry="2.8" fill="#222278" transform="rotate(172 291.9 72.7)"/><circle cx="291.0" cy="71.9" r="1.8" fill="#3838a8" fill-opacity="0.5"/><ellipse cx="240.8" cy="78.1" rx="3.9" ry="3.3" fill="#222278" transform="rotate(115 240.8 78.1)"/><circle cx="240.0" cy="77.5" r="1.6" fill="#3838a8" fill-opacity="0.5"/><ellipse cx="252.9" cy="78.1" rx="3.6" ry="3.3" fill="#1d1d6c" transform="rotate(35 252.9 78.1)"/><circle cx="252.0" cy="78.0" r="1.9" fill="#3838a8" fill-opacity="0.5"/><ellipse cx="262.3" cy="76.1" rx="4.1" ry="3.0" fill="#1d1d6c" transform="rotate(88 262.3 76.1)"/><circle cx="263.6" cy="77.2" r="1.9" fill="#3838a8" fill-opacity="0.5"/><ellipse cx="277.1" cy="77.4" rx="4.0" ry="3.0" fill="#2a2a8c" transform="rotate(56 277.1 77.4)"/><circle cx="277.0" cy="78.5" r="1.4" fill="#3838a8" fill-opacity="0.5"/><ellipse cx="285.2" cy="73.4" rx="4.8" ry="3.1" fill="#1d1d6c" transform="rotate(5 285.2 73.4)"/><circle cx="286.2" cy="74.1" r="1.4" fill="#3838a8" fill-opacity="0.5"/><ellipse cx="252.2" cy="87.5" rx="3.8" ry="3.6" fill="#272784" transform="rotate(2 252.2 87.5)"/><circle cx="252.6" cy="86.8" r="1.2" fill="#3838a8" fill-opacity="0.5"/><ellipse cx="246.2" cy="91.6" rx="4.8" ry="2.8" fill="#2a2a8c" transform="rotate(177 246.2 91.6)"/><circle cx="245.8" cy="92.6" r="1.5" fill="#3838a8" fill-opacity="0.5"/><ellipse cx="269.7" cy="84.8" rx="4.3" ry="3.3" fill="#1d1d6c" transform="rotate(43 269.7 84.8)"/><circle cx="269.5" cy="84.5" r="1.2" fill="#3838a8" fill-opacity="0.5"/><ellipse cx="283.8" cy="88.2" rx="4.3" ry="2.9" fill="#272784" transform="rotate(56 283.8 88.2)"/><circle cx="284.3" cy="88.2" r="1.8" fill="#3838a8" fill-opacity="0.5"/><ellipse cx="293.2" cy="84.8" rx="4.0" ry="2.8" fill="#272784" transform="rotate(7 293.2 84.8)"/><circle cx="294.3" cy="85.5" r="1.4" fill="#3838a8" fill-opacity="0.5"/><ellipse cx="265.0" cy="98.3" rx="3.7" ry="3.6" fill="#20207a" transform="rotate(142 265.0 98.3)"/><circle cx="265.7" cy="97.9" r="1.3" fill="#3838a8" fill-opacity="0.5"/><ellipse cx="277.1" cy="94.2" rx="3.5" ry="2.8" fill="#222278" transform="rotate(87 277.1 94.2)"/><circle cx="278.1" cy="95.1" r="1.6" fill="#3838a8" fill-opacity="0.5"/><ellipse cx="254.3" cy="96.9" rx="4.4" ry="3.7" fill="#20207a" transform="rotate(147 254.3 96.9)"/><circle cx="254.3" cy="96.6" r="1.7" fill="#3838a8" fill-opacity="0.5"/><ellipse cx="258.3" cy="36.5" rx="3.9" ry="2.9" fill="#20207a" transform="rotate(25 258.3 36.5)"/><circle cx="257.3" cy="37.1" r="1.6" fill="#3838a8" fill-opacity="0.5"/><ellipse cx="270.4" cy="35.1" rx="3.9" ry="3.1" fill="#20207a" transform="rotate(51 270.4 35.1)"/><circle cx="269.5" cy="34.7" r="1.6" fill="#3838a8" fill-opacity="0.5"/><ellipse cx="259.6" cy="45.9" rx="4.1" ry="3.7" fill="#20207a" transform="rotate(149 259.6 45.9)"/><circle cx="259.9" cy="44.9" r="1.7" fill="#3838a8" fill-opacity="0.5"/><ellipse cx="273.1" cy="59.3" rx="4.3" ry="3.3" fill="#1d1d6c" transform="rotate(50 273.1 59.3)"/><circle cx="272.0" cy="59.7" r="1.5" fill="#3838a8" fill-opacity="0.5"/><ellipse cx="256.9" cy="62.0" rx="4.2" ry="3.7" fill="#2a2a8c" transform="rotate(173 256.9 62.0)"/><circle cx="256.2" cy="62.9" r="1.3" fill="#3838a8" fill-opacity="0.5"/><ellipse cx="246.2" cy="82.2" rx="4.0" ry="3.6" fill="#1d1d6c" transform="rotate(57 246.2 82.2)"/><circle cx="245.5" cy="81.1" r="1.5" fill="#3838a8" fill-opacity="0.5"/><ellipse cx="269.0" cy="78.1" rx="4.4" ry="3.4" fill="#2a2a8c" transform="rotate(6 269.0 78.1)"/><circle cx="268.4" cy="79.2" r="1.3" fill="#3838a8" fill-opacity="0.5"/><ellipse cx="279.8" cy="82.2" rx="3.8" ry="3.0" fill="#20207a" transform="rotate(14 279.8 82.2)"/><circle cx="278.8" cy="82.4" r="1.3" fill="#3838a8" fill-opacity="0.5"/><ellipse cx="244.6" cy="41.5" rx="4.7" ry="3.7" fill="#222278" transform="rotate(170 244.6 41.5)"/><circle cx="244.4" cy="42.6" r="1.6" fill="#3838a8" fill-opacity="0.5"/><ellipse cx="278.4" cy="47.3" rx="3.9" ry="3.4" fill="#2a2a8c" transform="rotate(31 278.4 47.3)"/><circle cx="279.6" cy="46.5" r="1.9" fill="#3838a8" fill-opacity="0.5"/><ellipse cx="235.4" cy="73.9" rx="3.7" ry="3.8" fill="#222278" transform="rotate(121 235.4 73.9)"/><circle cx="234.4" cy="72.9" r="1.8" fill="#3838a8" fill-opacity="0.5"/><ellipse cx="283.6" cy="50.1" rx="3.7" ry="3.0" fill="#272784" transform="rotate(148 283.6 50.1)"/><circle cx="282.5" cy="51.1" r="1.6" fill="#3838a8" fill-opacity="0.5"/><ellipse cx="287.9" cy="78.4" rx="4.0" ry="2.9" fill="#222278" transform="rotate(70 287.9 78.4)"/><circle cx="287.4" cy="77.6" r="1.3" fill="#3838a8" fill-opacity="0.5"/><ellipse cx="232.5" cy="62.4" rx="3.7" ry="3.2" fill="#222278" transform="rotate(165 232.5 62.4)"/><circle cx="233.7" cy="61.3" r="1.5" fill="#3838a8" fill-opacity="0.5"/><ellipse cx="286.5" cy="60.3" rx="3.7" ry="3.3" fill="#20207a" transform="rotate(12 286.5 60.3)"/><circle cx="287.7" cy="60.3" r="1.8" fill="#3838a8" fill-opacity="0.5"/><ellipse cx="288.5" cy="66.6" rx="3.9" ry="2.8" fill="#2a2a8c" transform="rotate(62 288.5 66.6)"/><circle cx="288.7" cy="66.5" r="1.6" fill="#3838a8" fill-opacity="0.5"/><ellipse cx="263.8" cy="84.8" rx="4.1" ry="3.3" fill="#272784" transform="rotate(150 263.8 84.8)"/><circle cx="264.5" cy="84.3" r="1.8" fill="#3838a8" fill-opacity="0.5"/><ellipse cx="258.0" cy="81.9" rx="4.5" ry="3.1" fill="#272784" transform="rotate(155 258.0 81.9)"/><circle cx="257.5" cy="82.6" r="1.3" fill="#3838a8" fill-opacity="0.5"/><ellipse cx="272.0" cy="53.3" rx="4.3" ry="2.9" fill="#272784" transform="rotate(111 272.0 53.3)"/><circle cx="271.0" cy="52.2" r="1.9" fill="#3838a8" fill-opacity="0.5"/><ellipse cx="246.3" cy="73.2" rx="4.6" ry="3.8" fill="#20207a" transform="rotate(123 246.3 73.2)"/><circle cx="246.9" cy="72.7" r="1.6" fill="#3838a8" fill-opacity="0.5"/><ellipse cx="250.0" cy="51.6" rx="4.3" ry="3.1" fill="#272784" transform="rotate(106 250.0 51.6)"/><circle cx="249.5" cy="51.6" r="1.5" fill="#3838a8" fill-opacity="0.5"/><ellipse cx="263.5" cy="92.7" rx="3.9" ry="3.2" fill="#1d1d6c" transform="rotate(108 263.5 92.7)"/><circle cx="264.5" cy="93.5" r="1.4" fill="#3838a8" fill-opacity="0.5"/><ellipse cx="277.3" cy="88.2" rx="4.9" ry="3.1" fill="#20207a" transform="rotate(22 277.3 88.2)"/><circle cx="276.6" cy="89.3" r="1.8" fill="#3838a8" fill-opacity="0.5"/><ellipse cx="268.4" cy="65.2" rx="3.8" ry="3.2" fill="#272784" transform="rotate(48 268.4 65.2)"/><circle cx="268.3" cy="65.3" r="1.9" fill="#3838a8" fill-opacity="0.5"/></g><g filter="url(#blur05)"><circle cx="246.9" cy="35.1" r="0.90" fill="#1db088"/><circle cx="247.5" cy="40.5" r="0.73" fill="#1db088"/><circle cx="253.6" cy="46.6" r="0.70" fill="#1db088"/><circle cx="276.4" cy="39.8" r="0.77" fill="#1db088"/><circle cx="263.7" cy="43.9" r="0.57" fill="#1db088"/><circle cx="267.7" cy="50.6" r="0.70" fill="#1db088"/><circle cx="256.3" cy="51.5" r="0.85" fill="#1db088"/><circle cx="262.3" cy="53.7" r="0.82" fill="#1db088"/><circle cx="235.5" cy="55.0" r="0.57" fill="#1db088"/><circle cx="252.2" cy="58.0" r="0.85" fill="#1db088"/><circle cx="264.3" cy="61.3" r="0.68" fill="#1db088"/><circle cx="283.5" cy="64.7" r="0.89" fill="#1db088"/><circle cx="231.4" cy="66.4" r="0.68" fill="#1db088"/><circle cx="239.5" cy="66.0" r="0.63" fill="#1db088"/><circle cx="245.5" cy="67.4" r="0.74" fill="#1db088"/><circle cx="259.0" cy="67.4" r="0.86" fill="#1db088"/><circle cx="271.5" cy="69.8" r="0.70" fill="#1db088"/><circle cx="248.9" cy="72.7" r="0.85" fill="#1db088"/><circle cx="262.3" cy="73.0" r="0.80" fill="#1db088"/><circle cx="252.2" cy="76.8" r="0.68" fill="#1db088"/><circle cx="239.5" cy="77.9" r="0.66" fill="#1db088"/><circle cx="263.7" cy="77.4" r="0.73" fill="#1db088"/><circle cx="277.8" cy="80.1" r="0.69" fill="#1db088"/><circle cx="251.6" cy="83.5" r="0.68" fill="#1db088"/><circle cx="240.2" cy="87.3" r="0.78" fill="#1db088"/><circle cx="250.2" cy="88.6" r="0.86" fill="#1db088"/><circle cx="252.6" cy="98.3" r="0.75" fill="#1db088"/><circle cx="263.7" cy="99.9" r="0.60" fill="#1db088"/><circle cx="299.3" cy="69.4" r="0.63" fill="#1db088"/><circle cx="290.5" cy="45.6" r="0.68" fill="#1db088"/><circle cx="279.8" cy="50.2" r="0.77" fill="#1db088"/><circle cx="291.6" cy="71.4" r="0.60" fill="#1db088"/><circle cx="294.6" cy="58.0" r="0.58" fill="#1db088"/><circle cx="232.8" cy="72.7" r="0.66" fill="#1db088"/></g></g>
<rect x="308.60" y="20.60" width="85.30" height="85.10" fill="#06140f"/>
<g clip-path="url(#cb2)"><circle cx="353.0" cy="64.5" r="36.5" fill="#0b2119" filter="url(#blur3)"/><circle cx="353.0" cy="64.5" r="31.5" fill="#12123f" fill-opacity="0.35" filter="url(#blur3)"/><g filter="url(#blur1)"><ellipse cx="349.3" cy="29.8" rx="4.5" ry="3.2" fill="#2a2a8c" transform="rotate(169 349.3 29.8)"/><circle cx="348.3" cy="29.4" r="1.9" fill="#3838a8" fill-opacity="0.5"/><ellipse cx="339.9" cy="36.5" rx="4.1" ry="3.2" fill="#272784" transform="rotate(79 339.9 36.5)"/><circle cx="340.0" cy="37.5" r="1.7" fill="#3838a8" fill-opacity="0.5"/><ellipse cx="325.8" cy="41.9" rx="3.6" ry="3.6" fill="#222278" transform="rotate(76 325.8 41.9)"/><circle cx="325.1" cy="40.8" r="1.9" fill="#3838a8" fill-opacity="0.5"/><ellipse cx="348.0" cy="39.8" rx="3.8" ry="3.5" fill="#2a2a8c" transform="rotate(64 348.0 39.8)"/><circle cx="347.2" cy="39.4" r="1.4" fill="#3838a8" fill-opacity="0.5"/><ellipse cx="360.7" cy="37.8" rx="4.3" ry="3.2" fill="#272784" transform="rotate(135 360.7 37.8)"/><circle cx="360.4" cy="38.5" r="1.9" fill="#3838a8" fill-opacity="0.5"/><ellipse cx="370.8" cy="43.2" rx="4.4" ry="3.7" fill="#2a2a8c" transform="rotate(11 370.8 43.2)"/><circle cx="370.5" cy="42.4" r="1.9" fill="#3838a8" fill-opacity="0.5"/><ellipse cx="382.2" cy="49.2" rx="4.2" ry="2.8" fill="#222278" transform="rotate(31 382.2 49.2)"/><circle cx="382.9" cy="48.8" r="1.9" fill="#3838a8" fill-opacity="0.5"/><ellipse cx="333.9" cy="46.6" rx="4.6" ry="3.6" fill="#2a2a8c" transform="rotate(86 333.9 46.6)"/><circle cx="334.8" cy="46.8" r="1.8" fill="#3838a8" fill-opacity="0.5"/><ellipse cx="343.3" cy="47.2" rx="4.0" ry="2.8" fill="#20207a" transform="rotate(92 343.3 47.2)"/><circle cx="343.6" cy="47.9" r="1.2" fill="#3838a8" fill-opacity="0.5"/><ellipse cx="352.7" cy="45.2" rx="4.4" ry="3.4" fill="#20207a" transform="rotate(92 352.7 45.2)"/><circle cx="352.6" cy="45.7" r="1.5" fill="#3838a8" fill-opacity="0.5"/><ellipse cx="364.1" cy="47.9" rx="4.9" ry="3.6" fill="#20207a" transform="rotate(166 364.1 47.9)"/><circle cx="364.5" cy="48.0" r="1.8" fill="#3838a8" fill-opacity="0.5"/><ellipse cx="372.2" cy="49.2" rx="4.0" ry="3.4" fill="#20207a" transform="rotate(122 372.2 49.2)"/><circle cx="371.4" cy="48.8" r="1.2" fill="#3838a8" fill-opacity="0.5"/><ellipse cx="321.1" cy="53.9" rx="4.6" ry="3.4" fill="#2a2a8c" transform="rotate(155 321.1 53.9)"/><circle cx="320.6" cy="54.9" r="1.4" fill="#3838a8" fill-opacity="0.5"/><ellipse cx="327.8" cy="51.9" rx="4.5" ry="2.9" fill="#1d1d6c" transform="rotate(136 327.8 51.9)"/><circle cx="328.9" cy="52.3" r="1.9" fill="#3838a8" fill-opacity="0.5"/><ellipse cx="335.9" cy="56.6" rx="4.5" ry="3.4" fill="#20207a" transform="rotate(38 335.9 56.6)"/><circle cx="334.8" cy="55.8" r="1.5" fill="#3838a8" fill-opacity="0.5"/><ellipse cx="346.6" cy="59.3" rx="4.6" ry="3.2" fill="#2a2a8c" transform="rotate(174 346.6 59.3)"/><circle cx="346.3" cy="59.9" r="1.6" fill="#3838a8" fill-opacity="0.5"/><ellipse cx="356.0" cy="58.0" rx="3.8" ry="3.5" fill="#1d1d6c" transform="rotate(58 356.0 58.0)"/><circle cx="355.0" cy="58.4" r="1.6" fill="#3838a8" fill-opacity="0.5"/><ellipse cx="362.7" cy="54.6" rx="4.5" ry="3.2" fill="#272784" transform="rotate(160 362.7 54.6)"/><circle cx="362.2" cy="55.3" r="1.8" fill="#3838a8" fill-opacity="0.5"/><ellipse cx="369.5" cy="58.0" rx="3.6" ry="3.8" fill="#2a2a8c" transform="rotate(14 369.5 58.0)"/><circle cx="370.2" cy="57.4" r="1.3" fill="#3838a8" fill-opacity="0.5"/><ellipse cx="378.9" cy="61.3" rx="4.3" ry="3.6" fill="#2a2a8c" transform="rotate(158 378.9 61.3)"/><circle cx="378.6" cy="61.2" r="1.6" fill="#3838a8" fill-opacity="0.5"/><ellipse cx="325.1" cy="65.4" rx="4.8" ry="3.1" fill="#20207a" transform="rotate(51 325.1 65.4)"/><circle cx="326.2" cy="65.0" r="1.5" fill="#3838a8" fill-opacity="0.5"/><ellipse cx="331.2" cy="64.0" rx="3.7" ry="3.1" fill="#20207a" transform="rotate(100 331.2 64.0)"/><circle cx="330.4" cy="63.3" r="1.7" fill="#3838a8" fill-opacity="0.5"/><ellipse cx="343.9" cy="66.7" rx="4.4" ry="3.5" fill="#222278" transform="rotate(131 343.9 66.7)"/><circle cx="345.1" cy="65.9" r="1.6" fill="#3838a8" fill-opacity="0.5"/><ellipse cx="352.7" cy="66.7" rx="3.6" ry="3.0" fill="#2a2a8c" transform="rotate(84 352.7 66.7)"/><circle cx="353.8" cy="66.1" r="1.8" fill="#3838a8" fill-opacity="0.5"/><ellipse cx="364.1" cy="64.7" rx="4.7" ry="3.3" fill="#272784" transform="rotate(18 364.1 64.7)"/><circle cx="364.5" cy="63.8" r="1.5" fill="#3838a8" fill-opacity="0.5"/><ellipse cx="371.5" cy="62.0" rx="4.0" ry="3.6" fill="#2a2a8c" transform="rotate(103 371.5 62.0)"/><circle cx="372.1" cy="62.7" r="1.8" fill="#3838a8" fill-opacity="0.5"/><ellipse cx="323.8" cy="70.1" rx="4.5" ry="3.7" fill="#222278" transform="rotate(172 323.8 70.1)"/><circle cx="323.5" cy="70.8" r="1.4" fill="#3838a8" fill-opacity="0.5"/><ellipse cx="334.5" cy="68.7" rx="4.0" ry="3.0" fill="#222278" transform="rotate(160 334.5 68.7)"/><circle cx="333.9" cy="69.7" r="1.6" fill="#3838a8" fill-opacity="0.5"/><ellipse cx="337.2" cy="74.1" rx="3.5" ry="3.8" fill="#272784" transform="rotate(173 337.2 74.1)"/><circle cx="337.7" cy="74.1" r="2.0" fill="#3838a8" fill-opacity="0.5"/><ellipse cx="349.3" cy="72.7" rx="4.8" ry="2.9" fill="#1d1d6c" transform="rotate(137 349.3 72.7)"/><circle cx="348.1" cy="73.4" r="2.0" fill="#3838a8" fill-opacity="0.5"/><ellipse cx="356.7" cy="74.8" rx="4.6" ry="3.0" fill="#272784" transform="rotate(62 356.7 74.8)"/><circle cx="356.2" cy="74.8" r="1.8" fill="#3838a8" fill-opacity="0.5"/><ellipse cx="364.1" cy="74.1" rx="4.6" ry="3.4" fill="#1d1d6c" transform="rotate(53 364.1 74.1)"/><circle cx="365.2" cy="73.1" r="1.5" fill="#3838a8" fill-opacity="0.5"/><ellipse cx="373.5" cy="74.1" rx="3.8" ry="3.8" fill="#222278" transform="rotate(49 373.5 74.1)"/><circle cx="372.6" cy="75.1" r="1.6" fill="#3838a8" fill-opacity="0.5"/><ellipse cx="383.6" cy="72.7" rx="4.1" ry="3.0" fill="#272784" transform="rotate(152 383.6 72.7)"/><circle cx="382.5" cy="72.4" r="1.8" fill="#3838a8" fill-opacity="0.5"/><ellipse cx="330.5" cy="77.4" rx="3.5" ry="3.6" fill="#222278" transform="rotate(65 330.5 77.4)"/><circle cx="329.3" cy="77.6" r="2.0" fill="#3838a8" fill-opacity="0.5"/><ellipse cx="325.1" cy="81.5" rx="4.7" ry="2.9" fill="#272784" transform="rotate(175 325.1 81.5)"/><circle cx="326.4" cy="81.4" r="1.6" fill="#3838a8" fill-opacity="0.5"/><ellipse cx="336.6" cy="81.5" rx="3.6" ry="3.1" fill="#2a2a8c" transform="rotate(172 336.6 81.5)"/><circle cx="336.6" cy="80.5" r="1.5" fill="#3838a8" fill-opacity="0.5"/><ellipse cx="343.9" cy="79.5" rx="4.6" ry="3.2" fill="#20207a" transform="rotate(107 343.9 79.5)"/><circle cx="344.3" cy="78.4" r="1.2" fill="#3838a8" fill-opacity="0.5"/><ellipse cx="353.3" cy="81.5" rx="4.6" ry="3.2" fill="#2a2a8c" transform="rotate(157 353.3 81.5)"/><circle cx="354.4" cy="81.2" r="2.0" fill="#3838a8" fill-opacity="0.5"/><ellipse cx="366.1" cy="83.5" rx="4.6" ry="3.7" fill="#272784" transform="rotate(27 366.1 83.5)"/><circle cx="365.9" cy="84.5" r="2.0" fill="#3838a8" fill-opacity="0.5"/><ellipse cx="375.5" cy="85.5" rx="3.8" ry="3.2" fill="#2a2a8c" transform="rotate(49 375.5 85.5)"/><circle cx="375.2" cy="84.4" r="1.7" fill="#3838a8" fill-opacity="0.5"/><ellipse cx="386.9" cy="84.2" rx="4.6" ry="3.6" fill="#2a2a8c" transform="rotate(14 386.9 84.2)"/><circle cx="385.7" cy="84.0" r="1.3" fill="#3838a8" fill-opacity="0.5"/><ellipse cx="331.9" cy="88.2" rx="4.4" ry="3.5" fill="#1d1d6c" transform="rotate(89 331.9 88.2)"/><circle cx="332.1" cy="87.4" r="1.4" fill="#3838a8" fill-opacity="0.5"/><ellipse cx="342.6" cy="89.5" rx="4.8" ry="3.7" fill="#272784" transform="rotate(6 342.6 89.5)"/><circle cx="343.4" cy="88.6" r="1.3" fill="#3838a8" fill-opacity="0.5"/><ellipse cx="358.7" cy="90.2" rx="4.4" ry="3.1" fill="#1d1d6c" transform="rotate(39 358.7 90.2)"/><circle cx="358.8" cy="91.3" r="1.8" fill="#3838a8" fill-opacity="0.5"/><ellipse cx="349.3" cy="96.9" rx="3.6" ry="2.9" fill="#1d1d6c" transform="rotate(116 349.3 96.9)"/><circle cx="348.8" cy="97.8" r="1.6" fill="#3838a8" fill-opacity="0.5"/><ellipse cx="340.6" cy="96.9" rx="4.1" ry="3.7" fill="#272784" transform="rotate(174 340.6 96.9)"/><circle cx="340.0" cy="97.0" r="1.8" fill="#3838a8" fill-opacity="0.5"/><ellipse cx="358.0" cy="95.6" rx="3.7" ry="3.3" fill="#222278" transform="rotate(127 358.0 95.6)"/><circle cx="356.8" cy="94.9" r="1.4" fill="#3838a8" fill-opacity="0.5"/><ellipse cx="373.5" cy="68.3" rx="4.5" ry="3.0" fill="#20207a" transform="rotate(55 373.5 68.3)"/><circle cx="372.8" cy="68.7" r="1.9" fill="#3838a8" fill-opacity="0.5"/><ellipse cx="376.0" cy="55.9" rx="4.6" ry="3.4" fill="#222278" transform="rotate(79 376.0 55.9)"/><circle cx="376.4" cy="56.9" r="1.5" fill="#3838a8" fill-opacity="0.5"/><ellipse cx="354.2" cy="52.4" rx="4.2" ry="3.5" fill="#2a2a8c" transform="rotate(169 354.2 52.4)"/><circle cx="355.5" cy="51.9" r="1.3" fill="#3838a8" fill-opacity="0.5"/><ellipse cx="328.6" cy="58.4" rx="4.8" ry="2.9" fill="#272784" transform="rotate(81 328.6 58.4)"/><circle cx="328.7" cy="58.1" r="1.9" fill="#3838a8" fill-opacity="0.5"/><ellipse cx="357.6" cy="63.8" rx="3.9" ry="3.4" fill="#272784" transform="rotate(149 357.6 63.8)"/><circle cx="357.4" cy="62.8" r="1.2" fill="#3838a8" fill-opacity="0.5"/><ellipse cx="353.0" cy="36.5" rx="4.3" ry="3.4" fill="#222278" transform="rotate(8 353.0 36.5)"/><circle cx="352.0" cy="37.3" r="1.5" fill="#3838a8" fill-opacity="0.5"/><ellipse cx="379.9" cy="67.6" rx="4.0" ry="3.6" fill="#272784" transform="rotate(87 379.9 67.6)"/><circle cx="380.5" cy="67.0" r="1.9" fill="#3838a8" fill-opacity="0.5"/><ellipse cx="365.5" cy="91.5" rx="4.4" ry="3.2" fill="#272784" transform="rotate(113 365.5 91.5)"/><circle cx="366.1" cy="91.7" r="1.9" fill="#3838a8" fill-opacity="0.5"/><ellipse cx="347.3" cy="84.2" rx="4.8" ry="3.6" fill="#20207a" transform="rotate(107 347.3 84.2)"/><circle cx="346.1" cy="84.8" r="1.6" fill="#3838a8" fill-opacity="0.5"/><ellipse cx="352.9" cy="89.5" rx="3.5" ry="2.8" fill="#2a2a8c" transform="rotate(148 352.9 89.5)"/><circle cx="353.3" cy="89.8" r="1.2" fill="#3838a8" fill-opacity="0.5"/><ellipse cx="381.9" cy="56.5" rx="4.1" ry="3.2" fill="#2a2a8c" transform="rotate(96 381.9 56.5)"/><circle cx="382.2" cy="55.9" r="2.0" fill="#3838a8" fill-opacity="0.5"/><ellipse cx="334.9" cy="40.9" rx="3.7" ry="2.9" fill="#222278" transform="rotate(123 334.9 40.9)"/><circle cx="333.7" cy="41.4" r="1.4" fill="#3838a8" fill-opacity="0.5"/><ellipse cx="338.4" cy="50.9" rx="4.2" ry="3.3" fill="#1d1d6c" transform="rotate(151 338.4 50.9)"/><circle cx="337.4" cy="51.4" r="1.4" fill="#3838a8" fill-opacity="0.5"/><ellipse cx="371.4" cy="81.3" rx="3.9" ry="2.8" fill="#20207a" transform="rotate(136 371.4 81.3)"/><circle cx="371.8" cy="81.3" r="1.5" fill="#3838a8" fill-opacity="0.5"/><ellipse cx="359.8" cy="69.0" rx="4.4" ry="3.7" fill="#20207a" transform="rotate(57 359.8 69.0)"/><circle cx="359.0" cy="68.1" r="1.5" fill="#3838a8" fill-opacity="0.5"/><ellipse cx="340.6" cy="62.1" rx="3.6" ry="3.2" fill="#2a2a8c" transform="rotate(112 340.6 62.1)"/><circle cx="339.8" cy="61.3" r="1.6" fill="#3838a8" fill-opacity="0.5"/></g><g filter="url(#blur05)"><circle cx="343.0" cy="34.7" r="0.79" fill="#1db088"/><circle cx="336.6" cy="39.6" r="0.71" fill="#1db088"/><circle cx="358.0" cy="42.9" r="0.75" fill="#1db088"/><circle cx="360.7" cy="48.6" r="0.87" fill="#1db088"/><circle cx="364.8" cy="48.6" r="0.60" fill="#1db088"/><circle cx="322.5" cy="53.3" r="0.64" fill="#1db088"/><circle cx="333.2" cy="57.3" r="0.72" fill="#1db088"/><circle cx="331.2" cy="60.7" r="0.74" fill="#1db088"/><circle cx="342.6" cy="62.7" r="0.87" fill="#1db088"/><circle cx="348.0" cy="60.0" r="0.74" fill="#1db088"/><circle cx="354.7" cy="53.9" r="0.78" fill="#1db088"/><circle cx="361.4" cy="53.9" r="0.70" fill="#1db088"/><circle cx="373.5" cy="61.3" r="0.82" fill="#1db088"/><circle cx="380.2" cy="58.6" r="0.84" fill="#1db088"/><circle cx="321.1" cy="69.4" r="0.65" fill="#1db088"/><circle cx="326.5" cy="64.0" r="0.59" fill="#1db088"/><circle cx="352.0" cy="66.7" r="0.64" fill="#1db088"/><circle cx="354.7" cy="73.4" r="0.68" fill="#1db088"/><circle cx="361.4" cy="71.4" r="0.86" fill="#1db088"/><circle cx="359.4" cy="74.1" r="0.64" fill="#1db088"/><circle cx="373.5" cy="74.8" r="0.77" fill="#1db088"/><circle cx="376.9" cy="76.1" r="0.77" fill="#1db088"/><circle cx="384.2" cy="74.1" r="0.88" fill="#1db088"/><circle cx="332.5" cy="72.7" r="0.59" fill="#1db088"/><circle cx="325.8" cy="82.2" r="0.82" fill="#1db088"/><circle cx="330.5" cy="80.8" r="0.67" fill="#1db088"/><circle cx="351.3" cy="80.8" r="0.59" fill="#1db088"/><circle cx="347.3" cy="84.8" r="0.77" fill="#1db088"/><circle cx="364.1" cy="84.2" r="0.85" fill="#1db088"/><circle cx="367.4" cy="85.5" r="0.75" fill="#1db088"/><circle cx="373.5" cy="84.8" r="0.57" fill="#1db088"/><circle cx="359.4" cy="91.6" r="0.89" fill="#1db088"/><circle cx="350.0" cy="98.3" r="0.68" fill="#1db088"/><circle cx="335.2" cy="88.2" r="0.77" fill="#1db088"/></g></g>
<text x="222.80" y="31.40" font-size="8.2" fill="#93bd2b" textLength="14.20" lengthAdjust="spacingAndGlyphs">Xist</text>
<text x="310.40" y="31.40" font-size="8.2" fill="#93bd2b" textLength="14.20" lengthAdjust="spacingAndGlyphs">Xist</text>
<text x="279.60" y="99.30" font-size="8.6" fill="#ffffff" textLength="25.00" lengthAdjust="spacingAndGlyphs">20 µM</text>
<text x="366.60" y="99.30" font-size="8.6" fill="#ffffff" textLength="25.00" lengthAdjust="spacingAndGlyphs">20 µM</text>
<rect x="294.20" y="102.70" width="10.20" height="2.30" fill="#ffffff"/>
<rect x="381.60" y="102.70" width="10.20" height="2.30" fill="#ffffff"/>
<rect x="220.70" y="109.40" width="85.90" height="85.20" fill="#ebebeb"/>
<g clip-path="url(#cb3)"><circle cx="263.0" cy="150.0" r="37.6" fill="#f3f3f3" filter="url(#blur1)"/><g filter="url(#blur05)"><circle cx="266.3" cy="115.1" r="0.71" fill="#333"/><circle cx="246.9" cy="121.8" r="0.75" fill="#1a1a1a"/><circle cx="273.1" cy="123.4" r="0.59" fill="#444"/><circle cx="282.2" cy="121.5" r="0.60" fill="#444"/><circle cx="270.1" cy="127.8" r="0.58" fill="#444"/><circle cx="283.5" cy="128.5" r="0.66" fill="#1a1a1a"/><circle cx="239.5" cy="131.9" r="0.77" fill="#1a1a1a"/><circle cx="254.9" cy="130.5" r="0.67" fill="#444"/><circle cx="264.3" cy="136.3" r="0.76" fill="#444"/><circle cx="247.8" cy="137.2" r="0.61" fill="#333"/><circle cx="243.5" cy="136.3" r="0.87" fill="#444"/><circle cx="238.8" cy="138.2" r="1.02" fill="#444"/><circle cx="231.4" cy="139.0" r="0.84" fill="#1a1a1a"/><circle cx="255.6" cy="139.3" r="1.04" fill="#1a1a1a"/><circle cx="276.8" cy="142.2" r="0.83" fill="#333"/><circle cx="248.2" cy="145.3" r="0.69" fill="#333"/><circle cx="240.2" cy="147.3" r="0.82" fill="#444"/><circle cx="284.5" cy="147.3" r="0.70" fill="#333"/><circle cx="280.0" cy="148.4" r="0.60" fill="#444"/><circle cx="295.6" cy="148.4" r="0.87" fill="#555"/><circle cx="270.4" cy="150.3" r="0.60" fill="#1a1a1a"/><circle cx="233.4" cy="153.4" r="0.83" fill="#444"/><circle cx="254.3" cy="153.8" r="0.65" fill="#444"/><circle cx="259.4" cy="154.0" r="0.76" fill="#555"/><circle cx="228.1" cy="156.7" r="0.78" fill="#222"/><circle cx="270.4" cy="157.8" r="0.73" fill="#333"/><circle cx="238.8" cy="161.0" r="0.95" fill="#333"/><circle cx="249.2" cy="158.1" r="0.59" fill="#555"/><circle cx="254.3" cy="161.7" r="0.81" fill="#555"/><circle cx="260.7" cy="162.1" r="0.91" fill="#555"/><circle cx="248.2" cy="164.8" r="0.85" fill="#1a1a1a"/><circle cx="232.5" cy="165.4" r="0.61" fill="#222"/><circle cx="256.5" cy="167.2" r="0.63" fill="#555"/><circle cx="259.6" cy="168.8" r="0.63" fill="#222"/><circle cx="268.0" cy="170.2" r="0.76" fill="#1a1a1a"/><circle cx="283.8" cy="168.5" r="0.93" fill="#444"/><circle cx="248.2" cy="172.8" r="0.94" fill="#555"/><circle cx="285.2" cy="174.2" r="0.72" fill="#555"/><circle cx="238.8" cy="175.8" r="0.85" fill="#444"/><circle cx="282.2" cy="177.9" r="0.95" fill="#1a1a1a"/><circle cx="275.7" cy="178.9" r="0.97" fill="#555"/><circle cx="246.9" cy="180.2" r="0.79" fill="#1a1a1a"/><circle cx="268.4" cy="180.6" r="0.58" fill="#555"/><circle cx="257.6" cy="183.6" r="0.87" fill="#222"/><circle cx="266.3" cy="184.3" r="0.69" fill="#222"/></g></g>
<rect x="220.70" y="109.40" width="85.90" height="85.20" fill="none" stroke="#4a4a4a" stroke-width="0.8"/>
<rect x="308.60" y="109.40" width="85.30" height="85.20" fill="#ebebeb"/>
<g clip-path="url(#cb4)"><circle cx="353.3" cy="155.4" r="36.2" fill="#f3f3f3" filter="url(#blur1)"/><g filter="url(#blur05)"><circle cx="342.6" cy="123.1" r="0.78" fill="#555"/><circle cx="336.6" cy="128.1" r="0.68" fill="#333"/><circle cx="355.8" cy="128.2" r="0.98" fill="#1a1a1a"/><circle cx="358.5" cy="131.5" r="0.72" fill="#222"/><circle cx="323.8" cy="130.9" r="1.00" fill="#1a1a1a"/><circle cx="373.5" cy="130.3" r="0.72" fill="#444"/><circle cx="335.2" cy="137.2" r="0.90" fill="#222"/><circle cx="346.4" cy="136.3" r="0.63" fill="#222"/><circle cx="360.7" cy="137.6" r="1.03" fill="#222"/><circle cx="365.2" cy="137.9" r="0.63" fill="#333"/><circle cx="322.7" cy="141.5" r="0.58" fill="#333"/><circle cx="354.7" cy="142.6" r="0.80" fill="#444"/><circle cx="361.4" cy="142.3" r="0.58" fill="#222"/><circle cx="333.6" cy="145.6" r="0.94" fill="#1a1a1a"/><circle cx="347.7" cy="148.7" r="1.01" fill="#333"/><circle cx="355.8" cy="147.3" r="0.89" fill="#222"/><circle cx="380.2" cy="147.1" r="0.99" fill="#555"/><circle cx="331.6" cy="149.6" r="1.01" fill="#222"/><circle cx="343.0" cy="151.1" r="0.69" fill="#1a1a1a"/><circle cx="366.5" cy="151.3" r="0.65" fill="#1a1a1a"/><circle cx="373.8" cy="150.3" r="0.99" fill="#1a1a1a"/><circle cx="327.2" cy="153.0" r="1.00" fill="#222"/><circle cx="352.7" cy="155.4" r="0.62" fill="#333"/><circle cx="321.8" cy="156.7" r="0.76" fill="#1a1a1a"/><circle cx="336.2" cy="158.3" r="1.03" fill="#1a1a1a"/><circle cx="362.1" cy="160.1" r="0.61" fill="#444"/><circle cx="332.9" cy="161.7" r="0.65" fill="#333"/><circle cx="354.7" cy="162.1" r="0.72" fill="#1a1a1a"/><circle cx="359.8" cy="163.2" r="0.62" fill="#1a1a1a"/><circle cx="374.2" cy="163.4" r="0.80" fill="#444"/><circle cx="377.5" cy="164.5" r="0.80" fill="#333"/><circle cx="384.9" cy="163.4" r="0.76" fill="#222"/><circle cx="351.3" cy="169.5" r="0.65" fill="#1a1a1a"/><circle cx="330.5" cy="169.5" r="0.90" fill="#333"/><circle cx="325.8" cy="171.2" r="0.64" fill="#444"/><circle cx="336.2" cy="169.5" r="0.91" fill="#1a1a1a"/><circle cx="364.5" cy="172.8" r="0.58" fill="#444"/><circle cx="367.4" cy="174.9" r="0.89" fill="#333"/><circle cx="373.8" cy="173.9" r="0.92" fill="#444"/><circle cx="347.7" cy="173.9" r="1.05" fill="#1a1a1a"/><circle cx="335.2" cy="176.9" r="0.98" fill="#222"/><circle cx="359.4" cy="180.5" r="1.03" fill="#333"/><circle cx="370.8" cy="182.5" r="0.63" fill="#444"/><circle cx="350.0" cy="186.9" r="0.57" fill="#555"/><circle cx="366.1" cy="187.2" r="0.97" fill="#444"/></g></g>
<rect x="308.60" y="109.40" width="85.30" height="85.20" fill="none" stroke="#4a4a4a" stroke-width="0.8"/>
<text x="411.20" y="11.00" font-size="15" fill="#000" font-weight="bold">c</text>
<text x="473.20" y="16.80" font-size="9.8" fill="#222" textLength="130.80" lengthAdjust="spacingAndGlyphs">Whole-embryo RNA-seq E4.5</text>
<rect x="468.00" y="22.40" width="140.50" height="130.40" fill="#fff" stroke="#5c5c5c" stroke-width="0.8"/>
<line x1="489.30" y1="43.50" x2="502.40" y2="43.50" stroke="#b4b4b4" stroke-width="0.9" />
<line x1="541.60" y1="43.50" x2="592.00" y2="43.50" stroke="#b4b4b4" stroke-width="0.9" />
<rect x="502.40" y="36.30" width="39.20" height="13.20" fill="#a9d5e8" stroke="#6a6a6a" stroke-width="0.7"/>
<line x1="521.40" y1="36.30" x2="521.40" y2="49.50" stroke="#1a1a1a" stroke-width="1.0" />
<line x1="490.00" y1="57.50" x2="516.60" y2="57.50" stroke="#b4b4b4" stroke-width="0.9" />
<line x1="543.50" y1="57.50" x2="578.90" y2="57.50" stroke="#b4b4b4" stroke-width="0.9" />
<rect x="516.60" y="51.00" width="26.90" height="13.40" fill="#1d5c2f" stroke="#333" stroke-width="0.7"/>
<line x1="525.60" y1="51.00" x2="525.60" y2="64.40" stroke="#1a1a1a" stroke-width="1.0" />
<circle cx="593.60" cy="57.50" r="0.95" fill="#b4b4b4"/>
<line x1="503.00" y1="72.50" x2="520.40" y2="72.50" stroke="#b4b4b4" stroke-width="0.9" />
<line x1="571.50" y1="72.50" x2="596.00" y2="72.50" stroke="#b4b4b4" stroke-width="0.9" />
<rect x="520.40" y="66.00" width="51.10" height="13.30" fill="#f6a41c" stroke="#333" stroke-width="0.7"/>
<line x1="547.70" y1="66.00" x2="547.70" y2="79.30" stroke="#1a1a1a" stroke-width="1.0" />
<line x1="477.70" y1="102.50" x2="489.30" y2="102.50" stroke="#4a4a4a" stroke-width="0.9" />
<line x1="516.60" y1="102.50" x2="557.40" y2="102.50" stroke="#4a4a4a" stroke-width="0.9" />
<rect x="489.30" y="95.40" width="27.30" height="13.50" fill="#a9d5e8" stroke="#333" stroke-width="0.7"/>
<line x1="505.60" y1="95.40" x2="505.60" y2="108.90" stroke="#1a1a1a" stroke-width="1.0" />
<circle cx="564.00" cy="102.50" r="0.95" fill="#b4b4b4"/>
<circle cx="602.00" cy="102.50" r="0.95" fill="#b4b4b4"/>
<line x1="474.20" y1="117.50" x2="498.00" y2="117.50" stroke="#4a4a4a" stroke-width="0.9" />
<line x1="525.60" y1="117.50" x2="565.40" y2="117.50" stroke="#4a4a4a" stroke-width="0.9" />
<rect x="498.00" y="110.50" width="27.60" height="13.20" fill="#1d5c2f" stroke="#333" stroke-width="0.7"/>
<line x1="509.50" y1="110.50" x2="509.50" y2="123.70" stroke="#1a1a1a" stroke-width="1.0" />
<circle cx="572.80" cy="117.50" r="0.95" fill="#b4b4b4"/>
<circle cx="596.50" cy="117.50" r="0.95" fill="#b4b4b4"/>
<line x1="502.80" y1="132.50" x2="510.00" y2="132.50" stroke="#8a8a8a" stroke-width="0.9" />
<line x1="566.30" y1="132.50" x2="593.30" y2="132.50" stroke="#8a8a8a" stroke-width="0.9" />
<rect x="510.00" y="125.30" width="56.30" height="13.50" fill="#f6a41c" stroke="#333" stroke-width="0.7"/>
<line x1="535.20" y1="125.30" x2="535.20" y2="138.80" stroke="#1a1a1a" stroke-width="1.0" />
<line x1="464.40" y1="57.80" x2="468.00" y2="57.80" stroke="#555" stroke-width="0.8" />
<line x1="464.40" y1="117.40" x2="468.00" y2="117.40" stroke="#555" stroke-width="0.8" />
<text x="411.80" y="61.20" font-size="9.8" fill="#222" textLength="48.20" lengthAdjust="spacingAndGlyphs">−rtTA E4.5</text>
<text x="411.40" y="120.80" font-size="9.8" fill="#222" textLength="48.60" lengthAdjust="spacingAndGlyphs">+rtTA E4.5</text>
<line x1="506.30" y1="152.80" x2="506.30" y2="156.00" stroke="#555" stroke-width="0.8" />
<text x="506.30" y="166.80" font-size="8.8" text-anchor="middle" fill="#222">0.2</text>
<line x1="546.20" y1="152.80" x2="546.20" y2="156.00" stroke="#555" stroke-width="0.8" />
<text x="546.20" y="166.80" font-size="8.8" text-anchor="middle" fill="#222">0.4</text>
<line x1="586.20" y1="152.80" x2="586.20" y2="156.00" stroke="#555" stroke-width="0.8" />
<text x="586.20" y="166.80" font-size="8.8" text-anchor="middle" fill="#222">0.6</text>
<text x="487.20" y="183.80" font-size="10" fill="#222" textLength="120.60" lengthAdjust="spacingAndGlyphs">Allelic ratio (Xi / (Xi + Xa))</text>
<rect x="618.00" y="73.20" width="6.60" height="6.60" fill="#f6a41c" stroke="#333" stroke-width="0.6"/>
<text x="629.60" y="79.70" font-size="9.0" fill="#222" textLength="48.60" lengthAdjust="spacingAndGlyphs">Constitutive</text>
<rect x="618.00" y="83.80" width="6.60" height="6.60" fill="#1d5c2f" stroke="#333" stroke-width="0.6"/>
<text x="629.60" y="90.30" font-size="9.0" fill="#222" textLength="44.60" lengthAdjust="spacingAndGlyphs">Facultative</text>
<rect x="618.00" y="94.30" width="6.60" height="6.60" fill="#a9d5e8" stroke="#333" stroke-width="0.6"/>
<text x="629.60" y="100.80" font-size="9.0" fill="#222" textLength="51.60" lengthAdjust="spacingAndGlyphs">E4.5-specific</text>
<text x="205.80" y="223.40" font-size="15" fill="#000" font-weight="bold">e</text>
<text x="263.80" y="224.80" font-size="9.8" fill="#222" textLength="78.60" lengthAdjust="spacingAndGlyphs">E8.5 ExE RNA-seq</text>
<rect x="250.10" y="230.50" width="106.50" height="63.60" fill="#fff" stroke="#5c5c5c" stroke-width="0.8"/>
<line x1="255.40" y1="230.80" x2="255.40" y2="294.00" stroke="#999" stroke-width="0.6" stroke-dasharray="1.2 1.2"/>
<rect x="250.00" y="237.00" width="4.10" height="21.30" fill="#bfbfbf" stroke="#555" stroke-width="0.7"/>
<rect x="250.00" y="265.40" width="51.70" height="21.80" fill="#bfbfbf" stroke="#555" stroke-width="0.7"/>
<circle cx="253.30" cy="245.00" r="2.20" fill="#000"/>
<circle cx="254.70" cy="250.00" r="2.20" fill="#000"/>
<circle cx="267.80" cy="276.00" r="2.20" fill="#000"/>
<circle cx="278.00" cy="279.60" r="2.20" fill="#000"/>
<circle cx="284.00" cy="276.20" r="2.20" fill="#000"/>
<circle cx="294.60" cy="274.60" r="2.20" fill="#000"/>
<circle cx="331.90" cy="274.90" r="2.20" fill="#000"/>
<circle cx="348.70" cy="278.80" r="2.20" fill="#000"/>
<line x1="246.40" y1="247.60" x2="250.00" y2="247.60" stroke="#555" stroke-width="0.8" />
<line x1="246.40" y1="276.20" x2="250.00" y2="276.20" stroke="#555" stroke-width="0.8" />
<text x="206.60" y="251.20" font-size="10.2" fill="#222" textLength="35.60" lengthAdjust="spacingAndGlyphs">Control</text>
<text x="224.20" y="279.80" font-size="10.2" fill="#222" textLength="18.00" lengthAdjust="spacingAndGlyphs">Dox</text>
<line x1="250.00" y1="294.10" x2="250.00" y2="297.00" stroke="#555" stroke-width="0.8" />
<text x="250.00" y="307.60" font-size="8.8" text-anchor="middle" fill="#222">0</text>
<line x1="276.40" y1="294.10" x2="276.40" y2="297.00" stroke="#555" stroke-width="0.8" />
<text x="276.40" y="307.60" font-size="8.8" text-anchor="middle" fill="#222">5</text>
<line x1="302.90" y1="294.10" x2="302.90" y2="297.00" stroke="#555" stroke-width="0.8" />
<text x="302.90" y="307.60" font-size="8.8" text-anchor="middle" fill="#222">10</text>
<line x1="329.50" y1="294.10" x2="329.50" y2="297.00" stroke="#555" stroke-width="0.8" />
<text x="329.50" y="307.60" font-size="8.8" text-anchor="middle" fill="#222">15</text>
<line x1="356.20" y1="294.10" x2="356.20" y2="297.00" stroke="#555" stroke-width="0.8" />
<text x="356.20" y="307.60" font-size="8.8" text-anchor="middle" fill="#222">20</text>
<text x="263.80" y="323.20" font-size="10" fill="#222" textLength="78.80" lengthAdjust="spacingAndGlyphs">Fold change <tspan font-style="italic">Xist</tspan></text>
<text x="277.60" y="335.80" font-size="10" fill="#222" textLength="50.60" lengthAdjust="spacingAndGlyphs">expression</text>
<text x="411.60" y="223.40" font-size="15" fill="#000" font-weight="bold">f</text>
<text x="494.20" y="224.80" font-size="9.8" fill="#222" textLength="85.40" lengthAdjust="spacingAndGlyphs">RNA-seq ExE E8.5</text>
<rect x="466.60" y="229.40" width="145.85" height="106.90" fill="#fff" stroke="#5c5c5c" stroke-width="0.8"/>
<line x1="463.10" y1="234.30" x2="466.60" y2="234.30" stroke="#555" stroke-width="0.8" />
<text x="458.90" y="237.40" font-size="8.8" text-anchor="end" fill="#222">0.15</text>
<line x1="463.10" y1="266.70" x2="466.60" y2="266.70" stroke="#555" stroke-width="0.8" />
<text x="458.90" y="269.80" font-size="8.8" text-anchor="end" fill="#222">0.10</text>
<line x1="463.10" y1="299.20" x2="466.60" y2="299.20" stroke="#555" stroke-width="0.8" />
<text x="458.90" y="302.30" font-size="8.8" text-anchor="end" fill="#222">0.05</text>
<line x1="463.10" y1="331.50" x2="466.60" y2="331.50" stroke="#555" stroke-width="0.8" />
<text x="458.90" y="334.60" font-size="8.8" text-anchor="end" fill="#222">0</text>
<line x1="493.40" y1="336.30" x2="493.40" y2="339.30" stroke="#555" stroke-width="0.8" />
<text x="493.40" y="350.20" font-size="8.8" text-anchor="middle" fill="#222">−40</text>
<line x1="521.30" y1="336.30" x2="521.30" y2="339.30" stroke="#555" stroke-width="0.8" />
<text x="521.30" y="350.20" font-size="8.8" text-anchor="middle" fill="#222">0</text>
<line x1="549.30" y1="336.30" x2="549.30" y2="339.30" stroke="#555" stroke-width="0.8" />
<text x="549.30" y="350.20" font-size="8.8" text-anchor="middle" fill="#222">40</text>
<line x1="577.30" y1="336.30" x2="577.30" y2="339.30" stroke="#555" stroke-width="0.8" />
<text x="577.30" y="350.20" font-size="8.8" text-anchor="middle" fill="#222">80</text>
<line x1="605.20" y1="336.30" x2="605.20" y2="339.30" stroke="#555" stroke-width="0.8" />
<text x="605.20" y="350.20" font-size="8.8" text-anchor="middle" fill="#222">120</text>
<text x="539.60" y="365.40" font-size="10" text-anchor="middle" fill="#222">PC1</text>
<text x="0.00" y="0.00" font-size="10" text-anchor="middle" fill="#222" textLength="92.00" lengthAdjust="spacingAndGlyphs" transform="translate(420.6,282.6) rotate(-90)">Average allelic ratio</text>
<text x="0.00" y="0.00" font-size="10" text-anchor="middle" fill="#222" textLength="67.00" lengthAdjust="spacingAndGlyphs" transform="translate(432.6,282.6) rotate(-90)">(Xi / (Xi + Xa))</text>
<circle cx="475.40" cy="261.40" r="5.00" fill="#d6d6d6" stroke="#7a7a7a" stroke-width="0.6" fill-opacity="0.78"/>
<circle cx="533.10" cy="271.50" r="5.00" fill="#d6d6d6" stroke="#7a7a7a" stroke-width="0.6" fill-opacity="0.78"/>
<circle cx="491.30" cy="273.60" r="5.00" fill="#f488b7" stroke="#b0557f" stroke-width="0.6" fill-opacity="0.78"/>
<circle cx="495.50" cy="267.70" r="5.00" fill="#f488b7" stroke="#b0557f" stroke-width="0.6" fill-opacity="0.78"/>
<circle cx="499.20" cy="270.80" r="5.00" fill="#f488b7" stroke="#b0557f" stroke-width="0.6" fill-opacity="0.78"/>
<circle cx="502.30" cy="262.80" r="5.00" fill="#f488b7" stroke="#b0557f" stroke-width="0.6" fill-opacity="0.78"/>
<circle cx="504.40" cy="257.00" r="5.00" fill="#f488b7" stroke="#b0557f" stroke-width="0.6" fill-opacity="0.78"/>
<circle cx="566.80" cy="274.00" r="5.00" fill="#f488b7" stroke="#b0557f" stroke-width="0.6" fill-opacity="0.78"/>
<circle cx="572.80" cy="277.10" r="5.00" fill="#f488b7" stroke="#b0557f" stroke-width="0.6" fill-opacity="0.78"/>
<circle cx="603.00" cy="280.60" r="5.00" fill="#f488b7" stroke="#b0557f" stroke-width="0.6" fill-opacity="0.78"/>
<circle cx="478.50" cy="306.00" r="5.00" fill="#ecec86" stroke="#8f8f4e" stroke-width="0.6" fill-opacity="0.78"/>
<circle cx="489.70" cy="306.80" r="5.00" fill="#ecec86" stroke="#8f8f4e" stroke-width="0.6" fill-opacity="0.78"/>
<circle cx="518.20" cy="304.20" r="5.00" fill="#ecec86" stroke="#8f8f4e" stroke-width="0.6" fill-opacity="0.78"/>
<circle cx="522.10" cy="301.20" r="5.00" fill="#ecec86" stroke="#8f8f4e" stroke-width="0.6" fill-opacity="0.78"/>
<circle cx="538.70" cy="301.20" r="5.00" fill="#ecec86" stroke="#8f8f4e" stroke-width="0.6" fill-opacity="0.78"/>
<circle cx="571.70" cy="302.60" r="5.00" fill="#ecec86" stroke="#8f8f4e" stroke-width="0.6" fill-opacity="0.78"/>
<circle cx="625.00" cy="260.60" r="5.00" fill="#d6d6d6" stroke="#7a7a7a" stroke-width="0.6" fill-opacity="0.78"/>
<text x="636.40" y="263.60" font-size="8.8" fill="#222" textLength="43.40" lengthAdjust="spacingAndGlyphs">−rtTA +Dox</text>
<circle cx="625.00" cy="276.80" r="5.00" fill="#f488b7" stroke="#b0557f" stroke-width="0.6" fill-opacity="0.78"/>
<text x="636.40" y="279.80" font-size="8.8" fill="#222" textLength="43.40" lengthAdjust="spacingAndGlyphs">+rtTA −Dox</text>
<circle cx="625.00" cy="292.20" r="5.00" fill="#ecec86" stroke="#8f8f4e" stroke-width="0.6" fill-opacity="0.78"/>
<text x="636.40" y="295.20" font-size="8.8" fill="#222" textLength="43.40" lengthAdjust="spacingAndGlyphs">+rtTA +Dox</text>
<text x="-0.30" y="562.10" font-size="15" fill="#000" font-weight="bold">h</text>
<text x="114.40" y="560.40" font-size="9.8" fill="#222" textLength="82.20" lengthAdjust="spacingAndGlyphs">RNA-seq ExE E8.5</text>
<rect x="78.60" y="566.60" width="176.10" height="182.70" fill="#fff" stroke="#5c5c5c" stroke-width="0.8"/>
<line x1="107.70" y1="586.50" x2="115.80" y2="586.50" stroke="#9a9a9a" stroke-width="0.9" />
<line x1="152.10" y1="586.50" x2="176.80" y2="586.50" stroke="#9a9a9a" stroke-width="0.9" />
<rect x="115.80" y="580.20" width="36.30" height="13.10" fill="#a9d5e8" stroke="#777" stroke-width="0.7"/>
<line x1="126.30" y1="580.20" x2="126.30" y2="593.30" stroke="#1a1a1a" stroke-width="1.0" />
<circle cx="214.50" cy="586.50" r="0.95" fill="#b4b4b4"/>
<circle cx="246.40" cy="586.50" r="0.95" fill="#b4b4b4"/>
<line x1="108.30" y1="601.50" x2="124.40" y2="601.50" stroke="#b0b0b0" stroke-width="0.9" />
<line x1="158.50" y1="601.50" x2="203.40" y2="601.50" stroke="#b0b0b0" stroke-width="0.9" />
<rect x="124.40" y="594.40" width="34.10" height="13.30" fill="#1d5c2f" stroke="#333" stroke-width="0.7"/>
<line x1="138.50" y1="594.40" x2="138.50" y2="607.70" stroke="#1a1a1a" stroke-width="1.0" />
<circle cx="239.50" cy="601.50" r="0.95" fill="#b4b4b4"/>
<line x1="129.60" y1="615.50" x2="144.90" y2="615.50" stroke="#444" stroke-width="0.9" />
<line x1="201.20" y1="615.50" x2="209.00" y2="615.50" stroke="#444" stroke-width="0.9" />
<rect x="144.90" y="609.10" width="56.30" height="12.50" fill="#f6a41c" stroke="#333" stroke-width="0.7"/>
<line x1="165.20" y1="609.10" x2="165.20" y2="621.60" stroke="#1a1a1a" stroke-width="1.0" />
<line x1="87.20" y1="644.50" x2="87.20" y2="644.50" stroke="#777" stroke-width="0.9" />
<line x1="93.00" y1="644.50" x2="93.00" y2="644.50" stroke="#777" stroke-width="0.9" />
<rect x="87.20" y="637.40" width="5.80" height="13.00" fill="#a9d5e8" stroke="#555" stroke-width="0.7"/>
<line x1="90.50" y1="637.40" x2="90.50" y2="650.40" stroke="#1a1a1a" stroke-width="1.0" />
<circle cx="189.60" cy="644.50" r="0.95" fill="#b4b4b4"/>
<circle cx="197.00" cy="644.50" r="0.95" fill="#b4b4b4"/>
<line x1="87.20" y1="658.50" x2="87.20" y2="658.50" stroke="#777" stroke-width="0.9" />
<line x1="90.50" y1="658.50" x2="90.50" y2="658.50" stroke="#777" stroke-width="0.9" />
<rect x="87.20" y="651.80" width="3.30" height="12.80" fill="#1d5c2f" stroke="#333" stroke-width="0.7"/>
<line x1="88.60" y1="651.80" x2="88.60" y2="664.60" stroke="#1a1a1a" stroke-width="1.0" />
<circle cx="92.20" cy="658.50" r="0.95" fill="#b4b4b4"/>
<circle cx="95.80" cy="658.50" r="0.95" fill="#b4b4b4"/>
<circle cx="97.70" cy="658.50" r="0.95" fill="#b4b4b4"/>
<circle cx="131.30" cy="658.50" r="0.95" fill="#b4b4b4"/>
<circle cx="133.80" cy="658.50" r="0.95" fill="#b4b4b4"/>
<circle cx="136.00" cy="658.50" r="0.95" fill="#b4b4b4"/>
<circle cx="181.20" cy="658.50" r="0.95" fill="#b4b4b4"/>
<circle cx="183.70" cy="658.50" r="0.95" fill="#b4b4b4"/>
<circle cx="199.50" cy="658.50" r="0.95" fill="#b4b4b4"/>
<line x1="88.30" y1="672.50" x2="92.80" y2="672.50" stroke="#444" stroke-width="0.9" />
<line x1="127.40" y1="672.50" x2="165.70" y2="672.50" stroke="#444" stroke-width="0.9" />
<rect x="92.80" y="665.70" width="34.60" height="12.90" fill="#f6a41c" stroke="#333" stroke-width="0.7"/>
<line x1="108.60" y1="665.70" x2="108.60" y2="678.60" stroke="#1a1a1a" stroke-width="1.0" />
<circle cx="217.00" cy="672.50" r="0.95" fill="#b4b4b4"/>
<line x1="89.40" y1="701.50" x2="105.20" y2="701.50" stroke="#808080" stroke-width="0.9" />
<line x1="135.70" y1="701.50" x2="181.20" y2="701.50" stroke="#808080" stroke-width="0.9" />
<rect x="105.20" y="694.40" width="30.50" height="13.00" fill="#a9d5e8" stroke="#666" stroke-width="0.7"/>
<line x1="123.00" y1="694.40" x2="123.00" y2="707.40" stroke="#1a1a1a" stroke-width="1.0" />
<circle cx="238.90" cy="701.50" r="0.95" fill="#b4b4b4"/>
<line x1="86.70" y1="715.50" x2="124.40" y2="715.50" stroke="#808080" stroke-width="0.9" />
<line x1="156.60" y1="715.50" x2="202.30" y2="715.50" stroke="#808080" stroke-width="0.9" />
<rect x="124.40" y="708.60" width="32.20" height="13.00" fill="#1d5c2f" stroke="#333" stroke-width="0.7"/>
<line x1="139.40" y1="708.60" x2="139.40" y2="721.60" stroke="#1a1a1a" stroke-width="1.0" />
<circle cx="239.80" cy="715.50" r="0.95" fill="#b4b4b4"/>
<circle cx="241.70" cy="715.50" r="0.95" fill="#b4b4b4"/>
<line x1="130.20" y1="729.50" x2="153.20" y2="729.50" stroke="#444" stroke-width="0.9" />
<line x1="179.60" y1="729.50" x2="179.60" y2="729.50" stroke="#444" stroke-width="0.9" />
<rect x="153.20" y="723.00" width="26.40" height="12.70" fill="#f6a41c" stroke="#333" stroke-width="0.7"/>
<line x1="165.40" y1="723.00" x2="165.40" y2="735.70" stroke="#1a1a1a" stroke-width="1.0" />
<circle cx="226.20" cy="729.50" r="0.95" fill="#b4b4b4"/>
<line x1="73.80" y1="600.90" x2="78.60" y2="600.90" stroke="#555" stroke-width="0.8" />
<text x="17.20" y="604.30" font-size="9.8" fill="#222" textLength="51.20" lengthAdjust="spacingAndGlyphs">+rtTA −Dox</text>
<line x1="73.80" y1="657.80" x2="78.60" y2="657.80" stroke="#555" stroke-width="0.8" />
<text x="17.20" y="661.20" font-size="9.8" fill="#222" textLength="51.20" lengthAdjust="spacingAndGlyphs">+rtTA +Dox</text>
<line x1="73.80" y1="715.00" x2="78.60" y2="715.00" stroke="#555" stroke-width="0.8" />
<text x="17.40" y="718.40" font-size="9.8" fill="#222" textLength="51.00" lengthAdjust="spacingAndGlyphs">−rtTA +Dox</text>
<line x1="86.40" y1="749.30" x2="86.40" y2="754.40" stroke="#555" stroke-width="0.8" />
<text x="86.40" y="766.90" font-size="8.8" text-anchor="middle" fill="#222">0</text>
<line x1="133.80" y1="749.30" x2="133.80" y2="754.40" stroke="#555" stroke-width="0.8" />
<text x="133.80" y="766.90" font-size="8.8" text-anchor="middle" fill="#222">0.2</text>
<line x1="181.20" y1="749.30" x2="181.20" y2="754.40" stroke="#555" stroke-width="0.8" />
<text x="181.20" y="766.90" font-size="8.8" text-anchor="middle" fill="#222">0.4</text>
<line x1="228.50" y1="749.30" x2="228.50" y2="754.40" stroke="#555" stroke-width="0.8" />
<text x="228.50" y="766.90" font-size="8.8" text-anchor="middle" fill="#222">0.6</text>
<text x="105.60" y="784.40" font-size="10" fill="#222" textLength="120.00" lengthAdjust="spacingAndGlyphs">Allelic ratio (Xi / (Xi + Xa))</text>
<rect x="262.20" y="639.40" width="6.40" height="6.40" fill="#f6a41c" stroke="#333" stroke-width="0.6"/>
<text x="274.00" y="645.70" font-size="9.0" fill="#222" textLength="48.20" lengthAdjust="spacingAndGlyphs">Constitutive</text>
<rect x="262.20" y="650.00" width="6.40" height="6.40" fill="#1d5c2f" stroke="#333" stroke-width="0.6"/>
<text x="274.00" y="656.30" font-size="9.0" fill="#222" textLength="44.20" lengthAdjust="spacingAndGlyphs">Facultative</text>
<rect x="262.20" y="660.30" width="6.40" height="6.40" fill="#cde5f0" stroke="#333" stroke-width="0.6"/>
<text x="274.00" y="666.60" font-size="9.0" fill="#222" textLength="51.60" lengthAdjust="spacingAndGlyphs">E8.5-specific</text>
<text x="-0.40" y="383.40" font-size="15" fill="#000" font-weight="bold">g</text>
<rect x="62.00" y="429.90" width="553.00" height="75.30" fill="#d6dad6"/>
<rect x="62.25" y="429.90" width="6.97" height="25.10" fill="#005a2b"/>
<rect x="69.72" y="429.90" width="6.97" height="25.10" fill="#82a688"/>
<rect x="77.20" y="429.90" width="6.97" height="25.10" fill="#72a07b"/>
<rect x="84.67" y="429.90" width="6.97" height="25.10" fill="#82a688"/>
<rect x="92.14" y="429.90" width="6.97" height="25.10" fill="#8aa98f"/>
<rect x="99.61" y="429.90" width="6.97" height="25.10" fill="#96ae9a"/>
<rect x="107.09" y="429.90" width="6.97" height="25.10" fill="#8eab93"/>
<rect x="114.56" y="429.90" width="6.97" height="25.10" fill="#4f925d"/>
<rect x="122.03" y="429.90" width="6.97" height="25.10" fill="#82a688"/>
<rect x="129.51" y="429.90" width="6.97" height="25.10" fill="#104a25"/>
<rect x="136.98" y="429.90" width="6.97" height="25.10" fill="#60996c"/>
<rect x="144.45" y="429.90" width="6.97" height="25.10" fill="#96ae9a"/>
<rect x="151.93" y="429.90" width="6.97" height="25.10" fill="#8aa98f"/>
<rect x="159.40" y="429.90" width="6.97" height="25.10" fill="#8eab93"/>
<rect x="166.87" y="429.90" width="6.97" height="25.10" fill="#689c72"/>
<rect x="174.34" y="429.90" width="6.97" height="25.10" fill="#7fa585"/>
<rect x="181.82" y="429.90" width="6.97" height="25.10" fill="#82a688"/>
<rect x="189.29" y="429.90" width="6.97" height="25.10" fill="#448e56"/>
<rect x="196.76" y="429.90" width="6.97" height="25.10" fill="#72a07b"/>
<rect x="204.24" y="429.90" width="6.97" height="25.10" fill="#78a280"/>
<rect x="211.71" y="429.90" width="6.97" height="25.10" fill="#569563"/>
<rect x="219.18" y="429.90" width="6.97" height="25.10" fill="#6b9d75"/>
<rect x="226.66" y="429.90" width="6.97" height="25.10" fill="#569563"/>
<rect x="234.13" y="429.90" width="6.97" height="25.10" fill="#96ae9a"/>
<rect x="241.60" y="429.90" width="6.97" height="25.10" fill="#8eab93"/>
<rect x="249.07" y="429.90" width="6.97" height="25.10" fill="#007a3d"/>
<rect x="256.55" y="429.90" width="6.97" height="25.10" fill="#78a280"/>
<rect x="264.02" y="429.90" width="6.97" height="25.10" fill="#4f925d"/>
<rect x="271.49" y="429.90" width="6.97" height="25.10" fill="#3d8c51"/>
<rect x="278.97" y="429.90" width="6.97" height="25.10" fill="#8aa98f"/>
<rect x="286.44" y="429.90" width="6.97" height="25.10" fill="#9eb1a1"/>
<rect x="293.91" y="429.90" width="6.97" height="25.10" fill="#72a07b"/>
<rect x="301.39" y="429.90" width="6.97" height="25.10" fill="#9ab09e"/>
<rect x="308.86" y="429.90" width="6.97" height="25.10" fill="#60996c"/>
<rect x="316.33" y="429.90" width="6.97" height="25.10" fill="#82a688"/>
<rect x="323.80" y="429.90" width="6.97" height="25.10" fill="#7ca483"/>
<rect x="331.28" y="429.90" width="6.97" height="25.10" fill="#8aa98f"/>
<rect x="338.75" y="429.90" width="6.97" height="25.10" fill="#006933"/>
<rect x="346.22" y="429.90" width="6.97" height="25.10" fill="#689c72"/>
<rect x="353.70" y="429.90" width="6.97" height="25.10" fill="#5d9869"/>
<rect x="361.17" y="429.90" width="6.97" height="25.10" fill="#78a280"/>
<rect x="368.64" y="429.90" width="6.97" height="25.10" fill="#96ae9a"/>
<rect x="376.11" y="429.90" width="6.97" height="25.10" fill="#86a88c"/>
<rect x="383.59" y="429.90" width="6.97" height="25.10" fill="#96ae9a"/>
<rect x="391.06" y="429.90" width="6.97" height="25.10" fill="#8aa98f"/>
<rect x="398.53" y="429.90" width="6.97" height="25.10" fill="#96ae9a"/>
<rect x="406.01" y="429.90" width="6.97" height="25.10" fill="#00763b"/>
<rect x="413.48" y="429.90" width="6.97" height="25.10" fill="#60996c"/>
<rect x="420.95" y="429.90" width="6.97" height="25.10" fill="#689c72"/>
<rect x="428.43" y="429.90" width="6.97" height="25.10" fill="#569563"/>
<rect x="435.90" y="429.90" width="6.97" height="25.10" fill="#2b8545"/>
<rect x="443.37" y="429.90" width="6.97" height="25.10" fill="#168041"/>
<rect x="450.84" y="429.90" width="6.97" height="25.10" fill="#448e56"/>
<rect x="458.32" y="429.90" width="6.97" height="25.10" fill="#5a9666"/>
<rect x="465.79" y="429.90" width="6.97" height="25.10" fill="#689c72"/>
<rect x="473.26" y="429.90" width="6.97" height="25.10" fill="#006933"/>
<rect x="480.74" y="429.90" width="6.97" height="25.10" fill="#689c72"/>
<rect x="488.21" y="429.90" width="6.97" height="25.10" fill="#4f925d"/>
<rect x="495.68" y="429.90" width="6.97" height="25.10" fill="#006f37"/>
<rect x="503.16" y="429.90" width="6.97" height="25.10" fill="#82a688"/>
<rect x="510.63" y="429.90" width="6.97" height="25.10" fill="#82a688"/>
<rect x="518.10" y="429.90" width="6.97" height="25.10" fill="#78a280"/>
<rect x="525.57" y="429.90" width="6.97" height="25.10" fill="#123d1f"/>
<rect x="533.05" y="429.90" width="6.97" height="25.10" fill="#78a280"/>
<rect x="540.52" y="429.90" width="6.97" height="25.10" fill="#8eab93"/>
<rect x="547.99" y="429.90" width="6.97" height="25.10" fill="#82a688"/>
<rect x="555.47" y="429.90" width="6.97" height="25.10" fill="#097c3f"/>
<rect x="562.94" y="429.90" width="6.97" height="25.10" fill="#4f925d"/>
<rect x="570.41" y="429.90" width="6.97" height="25.10" fill="#8aa98f"/>
<rect x="577.89" y="429.90" width="6.97" height="25.10" fill="#569563"/>
<rect x="585.36" y="429.90" width="6.97" height="25.10" fill="#75a17e"/>
<rect x="592.83" y="429.90" width="6.97" height="25.10" fill="#82a688"/>
<rect x="600.30" y="429.90" width="6.97" height="25.10" fill="#7ca483"/>
<rect x="607.78" y="429.90" width="6.97" height="25.10" fill="#00763b"/>
<rect x="62.25" y="455.00" width="6.97" height="25.10" fill="#007a3d"/>
<rect x="69.72" y="455.00" width="6.97" height="25.10" fill="#bebebe"/>
<rect x="77.20" y="455.00" width="6.97" height="25.10" fill="#bebebe"/>
<rect x="84.67" y="455.00" width="6.97" height="25.10" fill="#bebebe"/>
<rect x="92.14" y="455.00" width="6.97" height="25.10" fill="#bebebe"/>
<rect x="99.61" y="455.00" width="6.97" height="25.10" fill="#bebebe"/>
<rect x="107.09" y="455.00" width="6.97" height="25.10" fill="#bebebe"/>
<rect x="114.56" y="455.00" width="6.97" height="25.10" fill="#bebebe"/>
<rect x="122.03" y="455.00" width="6.97" height="25.10" fill="#bebebe"/>
<rect x="129.51" y="455.00" width="6.97" height="25.10" fill="#bebebe"/>
<rect x="136.98" y="455.00" width="6.97" height="25.10" fill="#bebebe"/>
<rect x="144.45" y="455.00" width="6.97" height="25.10" fill="#bebebe"/>
<rect x="151.93" y="455.00" width="6.97" height="25.10" fill="#bebebe"/>
<rect x="159.40" y="455.00" width="6.97" height="25.10" fill="#bebebe"/>
<rect x="166.87" y="455.00" width="6.97" height="25.10" fill="#bebebe"/>
<rect x="174.34" y="455.00" width="6.97" height="25.10" fill="#bebebe"/>
<rect x="181.82" y="455.00" width="6.97" height="25.10" fill="#bebebe"/>
<rect x="189.29" y="455.00" width="6.97" height="25.10" fill="#b2b9b3"/>
<rect x="196.76" y="455.00" width="6.97" height="25.10" fill="#bebebe"/>
<rect x="204.24" y="455.00" width="6.97" height="25.10" fill="#bebebe"/>
<rect x="211.71" y="455.00" width="6.97" height="25.10" fill="#bebebe"/>
<rect x="219.18" y="455.00" width="6.97" height="25.10" fill="#bebebe"/>
<rect x="226.66" y="455.00" width="6.97" height="25.10" fill="#bebebe"/>
<rect x="234.13" y="455.00" width="6.97" height="25.10" fill="#bebebe"/>
<rect x="241.60" y="455.00" width="6.97" height="25.10" fill="#bebebe"/>
<rect x="249.07" y="455.00" width="6.97" height="25.10" fill="#007a3d"/>
<rect x="256.55" y="455.00" width="6.97" height="25.10" fill="#bebebe"/>
<rect x="264.02" y="455.00" width="6.97" height="25.10" fill="#bebebe"/>
<rect x="271.49" y="455.00" width="6.97" height="25.10" fill="#bebebe"/>
<rect x="278.97" y="455.00" width="6.97" height="25.10" fill="#bebebe"/>
<rect x="286.44" y="455.00" width="6.97" height="25.10" fill="#bebebe"/>
<rect x="293.91" y="455.00" width="6.97" height="25.10" fill="#bebebe"/>
<rect x="301.39" y="455.00" width="6.97" height="25.10" fill="#bebebe"/>
<rect x="308.86" y="455.00" width="6.97" height="25.10" fill="#aeb8b0"/>
<rect x="316.33" y="455.00" width="6.97" height="25.10" fill="#bebebe"/>
<rect x="323.80" y="455.00" width="6.97" height="25.10" fill="#bebebe"/>
<rect x="331.28" y="455.00" width="6.97" height="25.10" fill="#bebebe"/>
<rect x="338.75" y="455.00" width="6.97" height="25.10" fill="#007a3d"/>
<rect x="346.22" y="455.00" width="6.97" height="25.10" fill="#bebebe"/>
<rect x="353.70" y="455.00" width="6.97" height="25.10" fill="#bebebe"/>
<rect x="361.17" y="455.00" width="6.97" height="25.10" fill="#bebebe"/>
<rect x="368.64" y="455.00" width="6.97" height="25.10" fill="#bebebe"/>
<rect x="376.11" y="455.00" width="6.97" height="25.10" fill="#bebebe"/>
<rect x="383.59" y="455.00" width="6.97" height="25.10" fill="#bebebe"/>
<rect x="391.06" y="455.00" width="6.97" height="25.10" fill="#bebebe"/>
<rect x="398.53" y="455.00" width="6.97" height="25.10" fill="#bebebe"/>
<rect x="406.01" y="455.00" width="6.97" height="25.10" fill="#2b8545"/>
<rect x="413.48" y="455.00" width="6.97" height="25.10" fill="#3d8c51"/>
<rect x="420.95" y="455.00" width="6.97" height="25.10" fill="#78a280"/>
<rect x="428.43" y="455.00" width="6.97" height="25.10" fill="#bebebe"/>
<rect x="435.90" y="455.00" width="6.97" height="25.10" fill="#82a688"/>
<rect x="443.37" y="455.00" width="6.97" height="25.10" fill="#78a280"/>
<rect x="450.84" y="455.00" width="6.97" height="25.10" fill="#bebebe"/>
<rect x="458.32" y="455.00" width="6.97" height="25.10" fill="#b2b9b3"/>
<rect x="465.79" y="455.00" width="6.97" height="25.10" fill="#bebebe"/>
<rect x="473.26" y="455.00" width="6.97" height="25.10" fill="#4f925d"/>
<rect x="480.74" y="455.00" width="6.97" height="25.10" fill="#8eab93"/>
<rect x="488.21" y="455.00" width="6.97" height="25.10" fill="#b6bbb7"/>
<rect x="495.68" y="455.00" width="6.97" height="25.10" fill="#bebebe"/>
<rect x="503.16" y="455.00" width="6.97" height="25.10" fill="#a6b4a8"/>
<rect x="510.63" y="455.00" width="6.97" height="25.10" fill="#b6bbb7"/>
<rect x="518.10" y="455.00" width="6.97" height="25.10" fill="#b6bbb7"/>
<rect x="525.57" y="455.00" width="6.97" height="25.10" fill="#228343"/>
<rect x="533.05" y="455.00" width="6.97" height="25.10" fill="#bebebe"/>
<rect x="540.52" y="455.00" width="6.97" height="25.10" fill="#b6bbb7"/>
<rect x="547.99" y="455.00" width="6.97" height="25.10" fill="#aab6ac"/>
<rect x="555.47" y="455.00" width="6.97" height="25.10" fill="#32884a"/>
<rect x="562.94" y="455.00" width="6.97" height="25.10" fill="#bebebe"/>
<rect x="570.41" y="455.00" width="6.97" height="25.10" fill="#bebebe"/>
<rect x="577.89" y="455.00" width="6.97" height="25.10" fill="#bebebe"/>
<rect x="585.36" y="455.00" width="6.97" height="25.10" fill="#bebebe"/>
<rect x="592.83" y="455.00" width="6.97" height="25.10" fill="#bebebe"/>
<rect x="600.30" y="455.00" width="6.97" height="25.10" fill="#bebebe"/>
<rect x="607.78" y="455.00" width="6.97" height="25.10" fill="#006531"/>
<rect x="62.25" y="480.10" width="6.97" height="25.10" fill="#14351c"/>
<rect x="69.72" y="480.10" width="6.97" height="25.10" fill="#2b8545"/>
<rect x="77.20" y="480.10" width="6.97" height="25.10" fill="#78a280"/>
<rect x="84.67" y="480.10" width="6.97" height="25.10" fill="#82a688"/>
<rect x="92.14" y="480.10" width="6.97" height="25.10" fill="#9eb1a1"/>
<rect x="99.61" y="480.10" width="6.97" height="25.10" fill="#82a688"/>
<rect x="107.09" y="480.10" width="6.97" height="25.10" fill="#bebebe"/>
<rect x="114.56" y="480.10" width="6.97" height="25.10" fill="#2b8545"/>
<rect x="122.03" y="480.10" width="6.97" height="25.10" fill="#72a07b"/>
<rect x="129.51" y="480.10" width="6.97" height="25.10" fill="#104a25"/>
<rect x="136.98" y="480.10" width="6.97" height="25.10" fill="#60996c"/>
<rect x="144.45" y="480.10" width="6.97" height="25.10" fill="#9eb1a1"/>
<rect x="151.93" y="480.10" width="6.97" height="25.10" fill="#78a280"/>
<rect x="159.40" y="480.10" width="6.97" height="25.10" fill="#96ae9a"/>
<rect x="166.87" y="480.10" width="6.97" height="25.10" fill="#78a280"/>
<rect x="174.34" y="480.10" width="6.97" height="25.10" fill="#a2b3a5"/>
<rect x="181.82" y="480.10" width="6.97" height="25.10" fill="#60996c"/>
<rect x="189.29" y="480.10" width="6.97" height="25.10" fill="#4f925d"/>
<rect x="196.76" y="480.10" width="6.97" height="25.10" fill="#60996c"/>
<rect x="204.24" y="480.10" width="6.97" height="25.10" fill="#72a07b"/>
<rect x="211.71" y="480.10" width="6.97" height="25.10" fill="#60996c"/>
<rect x="219.18" y="480.10" width="6.97" height="25.10" fill="#72a07b"/>
<rect x="226.66" y="480.10" width="6.97" height="25.10" fill="#6b9d75"/>
<rect x="234.13" y="480.10" width="6.97" height="25.10" fill="#aab6ac"/>
<rect x="241.60" y="480.10" width="6.97" height="25.10" fill="#b2b9b3"/>
<rect x="249.07" y="480.10" width="6.97" height="25.10" fill="#097c3f"/>
<rect x="256.55" y="480.10" width="6.97" height="25.10" fill="#b6bbb7"/>
<rect x="264.02" y="480.10" width="6.97" height="25.10" fill="#4f925d"/>
<rect x="271.49" y="480.10" width="6.97" height="25.10" fill="#32884a"/>
<rect x="278.97" y="480.10" width="6.97" height="25.10" fill="#72a07b"/>
<rect x="286.44" y="480.10" width="6.97" height="25.10" fill="#bebebe"/>
<rect x="293.91" y="480.10" width="6.97" height="25.10" fill="#96ae9a"/>
<rect x="301.39" y="480.10" width="6.97" height="25.10" fill="#9eb1a1"/>
<rect x="308.86" y="480.10" width="6.97" height="25.10" fill="#60996c"/>
<rect x="316.33" y="480.10" width="6.97" height="25.10" fill="#78a280"/>
<rect x="323.80" y="480.10" width="6.97" height="25.10" fill="#72a07b"/>
<rect x="331.28" y="480.10" width="6.97" height="25.10" fill="#8aa98f"/>
<rect x="338.75" y="480.10" width="6.97" height="25.10" fill="#398a4f"/>
<rect x="346.22" y="480.10" width="6.97" height="25.10" fill="#72a07b"/>
<rect x="353.70" y="480.10" width="6.97" height="25.10" fill="#82a688"/>
<rect x="361.17" y="480.10" width="6.97" height="25.10" fill="#8eab93"/>
<rect x="368.64" y="480.10" width="6.97" height="25.10" fill="#9eb1a1"/>
<rect x="376.11" y="480.10" width="6.97" height="25.10" fill="#8eab93"/>
<rect x="383.59" y="480.10" width="6.97" height="25.10" fill="#aab6ac"/>
<rect x="391.06" y="480.10" width="6.97" height="25.10" fill="#82a688"/>
<rect x="398.53" y="480.10" width="6.97" height="25.10" fill="#8eab93"/>
<rect x="406.01" y="480.10" width="6.97" height="25.10" fill="#000000"/>
<rect x="413.48" y="480.10" width="6.97" height="25.10" fill="#488f58"/>
<rect x="420.95" y="480.10" width="6.97" height="25.10" fill="#82a688"/>
<rect x="428.43" y="480.10" width="6.97" height="25.10" fill="#4f925d"/>
<rect x="435.90" y="480.10" width="6.97" height="25.10" fill="#007a3d"/>
<rect x="443.37" y="480.10" width="6.97" height="25.10" fill="#168041"/>
<rect x="450.84" y="480.10" width="6.97" height="25.10" fill="#6b9d75"/>
<rect x="458.32" y="480.10" width="6.97" height="25.10" fill="#649a6f"/>
<rect x="465.79" y="480.10" width="6.97" height="25.10" fill="#82a688"/>
<rect x="473.26" y="480.10" width="6.97" height="25.10" fill="#32884a"/>
<rect x="480.74" y="480.10" width="6.97" height="25.10" fill="#72a07b"/>
<rect x="488.21" y="480.10" width="6.97" height="25.10" fill="#006f37"/>
<rect x="495.68" y="480.10" width="6.97" height="25.10" fill="#005a2b"/>
<rect x="503.16" y="480.10" width="6.97" height="25.10" fill="#82a688"/>
<rect x="510.63" y="480.10" width="6.97" height="25.10" fill="#82a688"/>
<rect x="518.10" y="480.10" width="6.97" height="25.10" fill="#78a280"/>
<rect x="525.57" y="480.10" width="6.97" height="25.10" fill="#104a25"/>
<rect x="533.05" y="480.10" width="6.97" height="25.10" fill="#60996c"/>
<rect x="540.52" y="480.10" width="6.97" height="25.10" fill="#96ae9a"/>
<rect x="547.99" y="480.10" width="6.97" height="25.10" fill="#82a688"/>
<rect x="555.47" y="480.10" width="6.97" height="25.10" fill="#124222"/>
<rect x="562.94" y="480.10" width="6.97" height="25.10" fill="#72a07b"/>
<rect x="570.41" y="480.10" width="6.97" height="25.10" fill="#bebebe"/>
<rect x="577.89" y="480.10" width="6.97" height="25.10" fill="#72a07b"/>
<rect x="585.36" y="480.10" width="6.97" height="25.10" fill="#78a280"/>
<rect x="592.83" y="480.10" width="6.97" height="25.10" fill="#82a688"/>
<rect x="600.30" y="480.10" width="6.97" height="25.10" fill="#78a280"/>
<rect x="607.78" y="480.10" width="6.97" height="25.10" fill="#2b8545"/>
<rect x="62.00" y="510.60" width="7.47" height="8.20" fill="#a9d5e8" stroke="#6b7f88" stroke-width="0.35"/>
<rect x="69.47" y="510.60" width="7.47" height="8.20" fill="#1d5c2f" stroke="#2c4a38" stroke-width="0.35"/>
<rect x="76.95" y="510.60" width="7.47" height="8.20" fill="#1d5c2f" stroke="#2c4a38" stroke-width="0.35"/>
<rect x="84.42" y="510.60" width="7.47" height="8.20" fill="#1d5c2f" stroke="#2c4a38" stroke-width="0.35"/>
<rect x="91.89" y="510.60" width="7.47" height="8.20" fill="#1d5c2f" stroke="#2c4a38" stroke-width="0.35"/>
<rect x="99.36" y="510.60" width="7.47" height="8.20" fill="#1d5c2f" stroke="#2c4a38" stroke-width="0.35"/>
<rect x="106.84" y="510.60" width="7.47" height="8.20" fill="#a9d5e8" stroke="#6b7f88" stroke-width="0.35"/>
<rect x="114.31" y="510.60" width="7.47" height="8.20" fill="#1d5c2f" stroke="#2c4a38" stroke-width="0.35"/>
<rect x="121.78" y="510.60" width="7.47" height="8.20" fill="#1d5c2f" stroke="#2c4a38" stroke-width="0.35"/>
<rect x="129.26" y="510.60" width="7.47" height="8.20" fill="#1d5c2f" stroke="#2c4a38" stroke-width="0.35"/>
<rect x="136.73" y="510.60" width="7.47" height="8.20" fill="#1d5c2f" stroke="#2c4a38" stroke-width="0.35"/>
<rect x="144.20" y="510.60" width="7.47" height="8.20" fill="#1d5c2f" stroke="#2c4a38" stroke-width="0.35"/>
<rect x="151.68" y="510.60" width="7.47" height="8.20" fill="#1d5c2f" stroke="#2c4a38" stroke-width="0.35"/>
<rect x="159.15" y="510.60" width="7.47" height="8.20" fill="#1d5c2f" stroke="#2c4a38" stroke-width="0.35"/>
<rect x="166.62" y="510.60" width="7.47" height="8.20" fill="#f6a41c" stroke="#6b7f88" stroke-width="0.35"/>
<rect x="174.09" y="510.60" width="7.47" height="8.20" fill="#1d5c2f" stroke="#2c4a38" stroke-width="0.35"/>
<rect x="181.57" y="510.60" width="7.47" height="8.20" fill="#f6a41c" stroke="#6b7f88" stroke-width="0.35"/>
<rect x="189.04" y="510.60" width="7.47" height="8.20" fill="#f6a41c" stroke="#6b7f88" stroke-width="0.35"/>
<rect x="196.51" y="510.60" width="7.47" height="8.20" fill="#1d5c2f" stroke="#2c4a38" stroke-width="0.35"/>
<rect x="203.99" y="510.60" width="7.47" height="8.20" fill="#1d5c2f" stroke="#2c4a38" stroke-width="0.35"/>
<rect x="211.46" y="510.60" width="7.47" height="8.20" fill="#1d5c2f" stroke="#2c4a38" stroke-width="0.35"/>
<rect x="218.93" y="510.60" width="7.47" height="8.20" fill="#1d5c2f" stroke="#2c4a38" stroke-width="0.35"/>
<rect x="226.41" y="510.60" width="7.47" height="8.20" fill="#1d5c2f" stroke="#2c4a38" stroke-width="0.35"/>
<rect x="233.88" y="510.60" width="7.47" height="8.20" fill="#a9d5e8" stroke="#6b7f88" stroke-width="0.35"/>
<rect x="241.35" y="510.60" width="7.47" height="8.20" fill="#a9d5e8" stroke="#6b7f88" stroke-width="0.35"/>
<rect x="248.82" y="510.60" width="7.47" height="8.20" fill="#1d5c2f" stroke="#2c4a38" stroke-width="0.35"/>
<rect x="256.30" y="510.60" width="7.47" height="8.20" fill="#1d5c2f" stroke="#2c4a38" stroke-width="0.35"/>
<rect x="263.77" y="510.60" width="7.47" height="8.20" fill="#1d5c2f" stroke="#2c4a38" stroke-width="0.35"/>
<rect x="271.24" y="510.60" width="7.47" height="8.20" fill="#a9d5e8" stroke="#6b7f88" stroke-width="0.35"/>
<rect x="278.72" y="510.60" width="7.47" height="8.20" fill="#a9d5e8" stroke="#6b7f88" stroke-width="0.35"/>
<rect x="286.19" y="510.60" width="7.47" height="8.20" fill="#a9d5e8" stroke="#6b7f88" stroke-width="0.35"/>
<rect x="293.66" y="510.60" width="7.47" height="8.20" fill="#a9d5e8" stroke="#6b7f88" stroke-width="0.35"/>
<rect x="301.14" y="510.60" width="7.47" height="8.20" fill="#a9d5e8" stroke="#6b7f88" stroke-width="0.35"/>
<rect x="308.61" y="510.60" width="7.47" height="8.20" fill="#f6a41c" stroke="#6b7f88" stroke-width="0.35"/>
<rect x="316.08" y="510.60" width="7.47" height="8.20" fill="#a9d5e8" stroke="#6b7f88" stroke-width="0.35"/>
<rect x="323.55" y="510.60" width="7.47" height="8.20" fill="#1d5c2f" stroke="#2c4a38" stroke-width="0.35"/>
<rect x="331.03" y="510.60" width="7.47" height="8.20" fill="#a9d5e8" stroke="#6b7f88" stroke-width="0.35"/>
<rect x="338.50" y="510.60" width="7.47" height="8.20" fill="#a9d5e8" stroke="#6b7f88" stroke-width="0.35"/>
<rect x="345.97" y="510.60" width="7.47" height="8.20" fill="#1d5c2f" stroke="#2c4a38" stroke-width="0.35"/>
<rect x="353.45" y="510.60" width="7.47" height="8.20" fill="#1d5c2f" stroke="#2c4a38" stroke-width="0.35"/>
<rect x="360.92" y="510.60" width="7.47" height="8.20" fill="#1d5c2f" stroke="#2c4a38" stroke-width="0.35"/>
<rect x="368.39" y="510.60" width="7.47" height="8.20" fill="#1d5c2f" stroke="#2c4a38" stroke-width="0.35"/>
<rect x="375.86" y="510.60" width="7.47" height="8.20" fill="#1d5c2f" stroke="#2c4a38" stroke-width="0.35"/>
<rect x="383.34" y="510.60" width="7.47" height="8.20" fill="#1d5c2f" stroke="#2c4a38" stroke-width="0.35"/>
<rect x="390.81" y="510.60" width="7.47" height="8.20" fill="#1d5c2f" stroke="#2c4a38" stroke-width="0.35"/>
<rect x="398.28" y="510.60" width="7.47" height="8.20" fill="#1d5c2f" stroke="#2c4a38" stroke-width="0.35"/>
<rect x="405.76" y="510.60" width="7.47" height="8.20" fill="#a9d5e8" stroke="#6b7f88" stroke-width="0.35"/>
<rect x="413.23" y="510.60" width="7.47" height="8.20" fill="#1d5c2f" stroke="#2c4a38" stroke-width="0.35"/>
<rect x="420.70" y="510.60" width="7.47" height="8.20" fill="#1d5c2f" stroke="#2c4a38" stroke-width="0.35"/>
<rect x="428.18" y="510.60" width="7.47" height="8.20" fill="#1d5c2f" stroke="#2c4a38" stroke-width="0.35"/>
<rect x="435.65" y="510.60" width="7.47" height="8.20" fill="#1d5c2f" stroke="#2c4a38" stroke-width="0.35"/>
<rect x="443.12" y="510.60" width="7.47" height="8.20" fill="#1d5c2f" stroke="#2c4a38" stroke-width="0.35"/>
<rect x="450.59" y="510.60" width="7.47" height="8.20" fill="#1d5c2f" stroke="#2c4a38" stroke-width="0.35"/>
<rect x="458.07" y="510.60" width="7.47" height="8.20" fill="#1d5c2f" stroke="#2c4a38" stroke-width="0.35"/>
<rect x="465.54" y="510.60" width="7.47" height="8.20" fill="#a9d5e8" stroke="#6b7f88" stroke-width="0.35"/>
<rect x="473.01" y="510.60" width="7.47" height="8.20" fill="#f6a41c" stroke="#6b7f88" stroke-width="0.35"/>
<rect x="480.49" y="510.60" width="7.47" height="8.20" fill="#f6a41c" stroke="#6b7f88" stroke-width="0.35"/>
<rect x="487.96" y="510.60" width="7.47" height="8.20" fill="#f6a41c" stroke="#6b7f88" stroke-width="0.35"/>
<rect x="495.43" y="510.60" width="7.47" height="8.20" fill="#f6a41c" stroke="#6b7f88" stroke-width="0.35"/>
<rect x="502.91" y="510.60" width="7.47" height="8.20" fill="#1d5c2f" stroke="#2c4a38" stroke-width="0.35"/>
<rect x="510.38" y="510.60" width="7.47" height="8.20" fill="#1d5c2f" stroke="#2c4a38" stroke-width="0.35"/>
<rect x="517.85" y="510.60" width="7.47" height="8.20" fill="#1d5c2f" stroke="#2c4a38" stroke-width="0.35"/>
<rect x="525.32" y="510.60" width="7.47" height="8.20" fill="#a9d5e8" stroke="#6b7f88" stroke-width="0.35"/>
<rect x="532.80" y="510.60" width="7.47" height="8.20" fill="#1d5c2f" stroke="#2c4a38" stroke-width="0.35"/>
<rect x="540.27" y="510.60" width="7.47" height="8.20" fill="#1d5c2f" stroke="#2c4a38" stroke-width="0.35"/>
<rect x="547.74" y="510.60" width="7.47" height="8.20" fill="#f6a41c" stroke="#6b7f88" stroke-width="0.35"/>
<rect x="555.22" y="510.60" width="7.47" height="8.20" fill="#1d5c2f" stroke="#2c4a38" stroke-width="0.35"/>
<rect x="562.69" y="510.60" width="7.47" height="8.20" fill="#1d5c2f" stroke="#2c4a38" stroke-width="0.35"/>
<rect x="570.16" y="510.60" width="7.47" height="8.20" fill="#1d5c2f" stroke="#2c4a38" stroke-width="0.35"/>
<rect x="577.64" y="510.60" width="7.47" height="8.20" fill="#1d5c2f" stroke="#2c4a38" stroke-width="0.35"/>
<rect x="585.11" y="510.60" width="7.47" height="8.20" fill="#1d5c2f" stroke="#2c4a38" stroke-width="0.35"/>
<rect x="592.58" y="510.60" width="7.47" height="8.20" fill="#a9d5e8" stroke="#6b7f88" stroke-width="0.35"/>
<rect x="600.05" y="510.60" width="7.47" height="8.20" fill="#1d5c2f" stroke="#2c4a38" stroke-width="0.35"/>
<rect x="607.53" y="510.60" width="7.47" height="8.20" fill="#f6a41c" stroke="#6b7f88" stroke-width="0.35"/>
<text x="0.00" y="0.00" font-size="7.0" fill="#444" font-style="italic" textLength="36.62" lengthAdjust="spacingAndGlyphs" transform="translate(68.19,426.9) rotate(-90)">Rpl19-ps12</text>
<text x="0.00" y="0.00" font-size="7.0" fill="#444" font-style="italic" textLength="29.06" lengthAdjust="spacingAndGlyphs" transform="translate(75.66,426.9) rotate(-90)">Shroom4</text>
<text x="0.00" y="0.00" font-size="7.0" fill="#444" font-style="italic" textLength="25.88" lengthAdjust="spacingAndGlyphs" transform="translate(83.13,426.9) rotate(-90)">Slc35a2</text>
<text x="0.00" y="0.00" font-size="7.0" fill="#444" font-style="italic" textLength="20.71" lengthAdjust="spacingAndGlyphs" transform="translate(90.61,426.9) rotate(-90)">Pqbp1</text>
<text x="0.00" y="0.00" font-size="7.0" fill="#444" font-style="italic" textLength="29.78" lengthAdjust="spacingAndGlyphs" transform="translate(98.08,426.9) rotate(-90)">Timm17b</text>
<text x="0.00" y="0.00" font-size="7.0" fill="#444" font-style="italic" textLength="20.70" lengthAdjust="spacingAndGlyphs" transform="translate(105.55,426.9) rotate(-90)">Hdac6</text>
<text x="0.00" y="0.00" font-size="7.0" fill="#444" font-style="italic" textLength="19.51" lengthAdjust="spacingAndGlyphs" transform="translate(113.02,426.9) rotate(-90)">Gata1</text>
<text x="0.00" y="0.00" font-size="7.0" fill="#444" font-style="italic" textLength="28.27" lengthAdjust="spacingAndGlyphs" transform="translate(120.50,426.9) rotate(-90)">Suv39h1</text>
<text x="0.00" y="0.00" font-size="7.0" fill="#444" font-style="italic" textLength="21.09" lengthAdjust="spacingAndGlyphs" transform="translate(127.97,426.9) rotate(-90)">Wdr13</text>
<text x="0.00" y="0.00" font-size="7.0" fill="#444" font-style="italic" textLength="19.10" lengthAdjust="spacingAndGlyphs" transform="translate(135.44,426.9) rotate(-90)">Rbm3</text>
<text x="0.00" y="0.00" font-size="7.0" fill="#444" font-style="italic" textLength="27.87" lengthAdjust="spacingAndGlyphs" transform="translate(142.92,426.9) rotate(-90)">Tbc1d25</text>
<text x="0.00" y="0.00" font-size="7.0" fill="#444" font-style="italic" textLength="12.74" lengthAdjust="spacingAndGlyphs" transform="translate(150.39,426.9) rotate(-90)">Ebp</text>
<text x="0.00" y="0.00" font-size="7.0" fill="#444" font-style="italic" textLength="15.52" lengthAdjust="spacingAndGlyphs" transform="translate(157.86,426.9) rotate(-90)">Ftsj1</text>
<text x="0.00" y="0.00" font-size="7.0" fill="#444" font-style="italic" textLength="26.68" lengthAdjust="spacingAndGlyphs" transform="translate(165.34,426.9) rotate(-90)">Atp6ap2</text>
<text x="0.00" y="0.00" font-size="7.0" fill="#444" font-style="italic" textLength="51.76" lengthAdjust="spacingAndGlyphs" transform="translate(172.81,426.9) rotate(-90)">1810030O07Rik</text>
<text x="0.00" y="0.00" font-size="7.0" fill="#444" font-style="italic" textLength="21.90" lengthAdjust="spacingAndGlyphs" transform="translate(180.28,426.9) rotate(-90)">Med14</text>
<text x="0.00" y="0.00" font-size="7.0" fill="#444" font-style="italic" textLength="20.30" lengthAdjust="spacingAndGlyphs" transform="translate(187.75,426.9) rotate(-90)">Ddx3x</text>
<text x="0.00" y="0.00" font-size="7.0" fill="#444" font-style="italic" textLength="22.69" lengthAdjust="spacingAndGlyphs" transform="translate(195.23,426.9) rotate(-90)">Kdm6a</text>
<text x="0.00" y="0.00" font-size="7.0" fill="#444" font-style="italic" textLength="26.54" lengthAdjust="spacingAndGlyphs" transform="translate(202.70,426.9) rotate(-90)">Ndufb11</text>
<text x="0.00" y="0.00" font-size="7.0" fill="#444" font-style="italic" textLength="23.08" lengthAdjust="spacingAndGlyphs" transform="translate(210.17,426.9) rotate(-90)">Rbm10</text>
<text x="0.00" y="0.00" font-size="7.0" fill="#444" font-style="italic" textLength="17.12" lengthAdjust="spacingAndGlyphs" transform="translate(217.65,426.9) rotate(-90)">Uba1</text>
<text x="0.00" y="0.00" font-size="7.0" fill="#444" font-style="italic" textLength="20.70" lengthAdjust="spacingAndGlyphs" transform="translate(225.12,426.9) rotate(-90)">Cdk16</text>
<text x="0.00" y="0.00" font-size="7.0" fill="#444" font-style="italic" textLength="13.13" lengthAdjust="spacingAndGlyphs" transform="translate(232.59,426.9) rotate(-90)">Araf</text>
<text x="0.00" y="0.00" font-size="7.0" fill="#444" font-style="italic" textLength="52.15" lengthAdjust="spacingAndGlyphs" transform="translate(240.06,426.9) rotate(-90)">C330007P06Rik</text>
<text x="0.00" y="0.00" font-size="7.0" fill="#444" font-style="italic" textLength="21.10" lengthAdjust="spacingAndGlyphs" transform="translate(247.54,426.9) rotate(-90)">Ube2a</text>
<text x="0.00" y="0.00" font-size="7.0" fill="#444" font-style="italic" textLength="18.71" lengthAdjust="spacingAndGlyphs" transform="translate(255.01,426.9) rotate(-90)">Rpl39</text>
<text x="0.00" y="0.00" font-size="7.0" fill="#444" font-style="italic" textLength="19.11" lengthAdjust="spacingAndGlyphs" transform="translate(262.48,426.9) rotate(-90)">Upf3b</text>
<text x="0.00" y="0.00" font-size="7.0" fill="#444" font-style="italic" textLength="16.72" lengthAdjust="spacingAndGlyphs" transform="translate(269.96,426.9) rotate(-90)">Nkap</text>
<text x="0.00" y="0.00" font-size="7.0" fill="#444" font-style="italic" textLength="23.09" lengthAdjust="spacingAndGlyphs" transform="translate(277.43,426.9) rotate(-90)">Ndufa1</text>
<text x="0.00" y="0.00" font-size="7.0" fill="#444" font-style="italic" textLength="19.90" lengthAdjust="spacingAndGlyphs" transform="translate(284.90,426.9) rotate(-90)">Thoc2</text>
<text x="0.00" y="0.00" font-size="7.0" fill="#444" font-style="italic" textLength="14.33" lengthAdjust="spacingAndGlyphs" transform="translate(292.38,426.9) rotate(-90)">Xiap</text>
<text x="0.00" y="0.00" font-size="7.0" fill="#444" font-style="italic" textLength="20.30" lengthAdjust="spacingAndGlyphs" transform="translate(299.85,426.9) rotate(-90)">Sash3</text>
<text x="0.00" y="0.00" font-size="7.0" fill="#444" font-style="italic" textLength="23.89" lengthAdjust="spacingAndGlyphs" transform="translate(307.32,426.9) rotate(-90)">Zdhhc9</text>
<text x="0.00" y="0.00" font-size="7.0" fill="#444" font-style="italic" textLength="23.09" lengthAdjust="spacingAndGlyphs" transform="translate(314.79,426.9) rotate(-90)">Utp14a</text>
<text x="0.00" y="0.00" font-size="7.0" fill="#444" font-style="italic" textLength="31.45" lengthAdjust="spacingAndGlyphs" transform="translate(322.27,426.9) rotate(-90)">Gm28730</text>
<text x="0.00" y="0.00" font-size="7.0" fill="#444" font-style="italic" textLength="52.15" lengthAdjust="spacingAndGlyphs" transform="translate(329.74,426.9) rotate(-90)">C430049B03Rik</text>
<text x="0.00" y="0.00" font-size="7.0" fill="#444" font-style="italic" textLength="17.91" lengthAdjust="spacingAndGlyphs" transform="translate(337.21,426.9) rotate(-90)">Plac1</text>
<text x="0.00" y="0.00" font-size="7.0" fill="#444" font-style="italic" textLength="31.45" lengthAdjust="spacingAndGlyphs" transform="translate(344.69,426.9) rotate(-90)">Gm14639</text>
<text x="0.00" y="0.00" font-size="7.0" fill="#444" font-style="italic" textLength="17.92" lengthAdjust="spacingAndGlyphs" transform="translate(352.16,426.9) rotate(-90)">Idh3g</text>
<text x="0.00" y="0.00" font-size="7.0" fill="#444" font-style="italic" textLength="14.72" lengthAdjust="spacingAndGlyphs" transform="translate(359.63,426.9) rotate(-90)">Ssr4</text>
<text x="0.00" y="0.00" font-size="7.0" fill="#444" font-style="italic" textLength="21.10" lengthAdjust="spacingAndGlyphs" transform="translate(367.11,426.9) rotate(-90)">Naa10</text>
<text x="0.00" y="0.00" font-size="7.0" fill="#444" font-style="italic" textLength="21.10" lengthAdjust="spacingAndGlyphs" transform="translate(374.58,426.9) rotate(-90)">Renbp</text>
<text x="0.00" y="0.00" font-size="7.0" fill="#444" font-style="italic" textLength="18.30" lengthAdjust="spacingAndGlyphs" transform="translate(382.05,426.9) rotate(-90)">Hcfc1</text>
<text x="0.00" y="0.00" font-size="7.0" fill="#444" font-style="italic" textLength="11.28" lengthAdjust="spacingAndGlyphs" transform="translate(389.52,426.9) rotate(-90)">Taz</text>
<text x="0.00" y="0.00" font-size="7.0" fill="#444" font-style="italic" textLength="26.68" lengthAdjust="spacingAndGlyphs" transform="translate(397.00,426.9) rotate(-90)">Atp6ap1</text>
<text x="0.00" y="0.00" font-size="7.0" fill="#444" font-style="italic" textLength="15.13" lengthAdjust="spacingAndGlyphs" transform="translate(404.47,426.9) rotate(-90)">Gdi1</text>
<text x="0.00" y="0.00" font-size="7.0" fill="#444" font-style="italic" textLength="34.63" lengthAdjust="spacingAndGlyphs" transform="translate(411.94,426.9) rotate(-90)">Rps24-ps3</text>
<text x="0.00" y="0.00" font-size="7.0" fill="#444" font-style="italic" textLength="27.47" lengthAdjust="spacingAndGlyphs" transform="translate(419.42,426.9) rotate(-90)">Gm8822</text>
<text x="0.00" y="0.00" font-size="7.0" fill="#444" font-style="italic" textLength="17.12" lengthAdjust="spacingAndGlyphs" transform="translate(426.89,426.9) rotate(-90)">Las1l</text>
<text x="0.00" y="0.00" font-size="7.0" fill="#444" font-style="italic" textLength="16.19" lengthAdjust="spacingAndGlyphs" transform="translate(434.36,426.9) rotate(-90)">Yipf6</text>
<text x="0.00" y="0.00" font-size="7.0" fill="#444" font-style="italic" textLength="13.67" lengthAdjust="spacingAndGlyphs" transform="translate(441.84,426.9) rotate(-90)">Taf1</text>
<text x="0.00" y="0.00" font-size="7.0" fill="#444" font-style="italic" textLength="11.54" lengthAdjust="spacingAndGlyphs" transform="translate(449.31,426.9) rotate(-90)">Ogt</text>
<text x="0.00" y="0.00" font-size="7.0" fill="#444" font-style="italic" textLength="19.90" lengthAdjust="spacingAndGlyphs" transform="translate(456.78,426.9) rotate(-90)">Ercc6l</text>
<text x="0.00" y="0.00" font-size="7.0" fill="#444" font-style="italic" textLength="20.30" lengthAdjust="spacingAndGlyphs" transform="translate(464.25,426.9) rotate(-90)">Rps4x</text>
<text x="0.00" y="0.00" font-size="7.0" fill="#444" font-style="italic" textLength="20.70" lengthAdjust="spacingAndGlyphs" transform="translate(471.73,426.9) rotate(-90)">Cited1</text>
<text x="0.00" y="0.00" font-size="7.0" fill="#444" font-style="italic" textLength="11.14" lengthAdjust="spacingAndGlyphs" transform="translate(479.20,426.9) rotate(-90)">Jpx</text>
<text x="0.00" y="0.00" font-size="7.0" fill="#444" font-style="italic" textLength="9.94" lengthAdjust="spacingAndGlyphs" transform="translate(486.67,426.9) rotate(-90)">Ftx</text>
<text x="0.00" y="0.00" font-size="7.0" fill="#444" font-style="italic" textLength="51.36" lengthAdjust="spacingAndGlyphs" transform="translate(494.15,426.9) rotate(-90)">5530601H04Rik</text>
<text x="0.00" y="0.00" font-size="7.0" fill="#444" font-style="italic" textLength="20.30" lengthAdjust="spacingAndGlyphs" transform="translate(501.62,426.9) rotate(-90)">Pbdc1</text>
<text x="0.00" y="0.00" font-size="7.0" fill="#444" font-style="italic" textLength="12.73" lengthAdjust="spacingAndGlyphs" transform="translate(509.09,426.9) rotate(-90)">Atrx</text>
<text x="0.00" y="0.00" font-size="7.0" fill="#444" font-style="italic" textLength="19.90" lengthAdjust="spacingAndGlyphs" transform="translate(516.56,426.9) rotate(-90)">Magt1</text>
<text x="0.00" y="0.00" font-size="7.0" fill="#444" font-style="italic" textLength="20.70" lengthAdjust="spacingAndGlyphs" transform="translate(524.04,426.9) rotate(-90)">Cox7b</text>
<text x="0.00" y="0.00" font-size="7.0" fill="#444" font-style="italic" textLength="27.47" lengthAdjust="spacingAndGlyphs" transform="translate(531.51,426.9) rotate(-90)">Gm6382</text>
<text x="0.00" y="0.00" font-size="7.0" fill="#444" font-style="italic" textLength="22.29" lengthAdjust="spacingAndGlyphs" transform="translate(538.98,426.9) rotate(-90)">Huwe1</text>
<text x="0.00" y="0.00" font-size="7.0" fill="#444" font-style="italic" textLength="22.29" lengthAdjust="spacingAndGlyphs" transform="translate(546.46,426.9) rotate(-90)">Smc1a</text>
<text x="0.00" y="0.00" font-size="7.0" fill="#444" font-style="italic" textLength="22.29" lengthAdjust="spacingAndGlyphs" transform="translate(553.93,426.9) rotate(-90)">Kdm5c</text>
<text x="0.00" y="0.00" font-size="7.0" fill="#444" font-style="italic" textLength="31.45" lengthAdjust="spacingAndGlyphs" transform="translate(561.40,426.9) rotate(-90)">Gm15163</text>
<text x="0.00" y="0.00" font-size="7.0" fill="#444" font-style="italic" textLength="23.48" lengthAdjust="spacingAndGlyphs" transform="translate(568.88,426.9) rotate(-90)">Mbtps2</text>
<text x="0.00" y="0.00" font-size="7.0" fill="#444" font-style="italic" textLength="17.51" lengthAdjust="spacingAndGlyphs" transform="translate(576.35,426.9) rotate(-90)">Txlng</text>
<text x="0.00" y="0.00" font-size="7.0" fill="#444" font-style="italic" textLength="16.71" lengthAdjust="spacingAndGlyphs" transform="translate(583.82,426.9) rotate(-90)">Zrsr2</text>
<text x="0.00" y="0.00" font-size="7.0" fill="#444" font-style="italic" textLength="22.30" lengthAdjust="spacingAndGlyphs" transform="translate(591.29,426.9) rotate(-90)">Siah1b</text>
<text x="0.00" y="0.00" font-size="7.0" fill="#444" font-style="italic" textLength="15.12" lengthAdjust="spacingAndGlyphs" transform="translate(598.77,426.9) rotate(-90)">Msl3</text>
<text x="0.00" y="0.00" font-size="7.0" fill="#444" font-style="italic" textLength="15.91" lengthAdjust="spacingAndGlyphs" transform="translate(606.24,426.9) rotate(-90)">Hccs</text>
<text x="0.00" y="0.00" font-size="7.0" fill="#444" font-style="italic" textLength="15.52" lengthAdjust="spacingAndGlyphs" transform="translate(613.71,426.9) rotate(-90)">Mid1</text>
<line x1="57.80" y1="442.40" x2="60.80" y2="442.40" stroke="#555" stroke-width="0.7" />
<text x="4.60" y="445.80" font-size="9.6" fill="#222" textLength="50.80" lengthAdjust="spacingAndGlyphs">+rtTA −Dox</text>
<line x1="57.80" y1="467.50" x2="60.80" y2="467.50" stroke="#555" stroke-width="0.7" />
<text x="4.60" y="470.90" font-size="9.6" fill="#222" textLength="50.80" lengthAdjust="spacingAndGlyphs">+rtTA +Dox</text>
<line x1="57.80" y1="492.60" x2="60.80" y2="492.60" stroke="#555" stroke-width="0.7" />
<text x="4.80" y="496.00" font-size="9.6" fill="#222" textLength="50.60" lengthAdjust="spacingAndGlyphs">−rtTA +Dox</text>
<rect x="224.20" y="528.20" width="8.00" height="8.00" fill="#1d5c2f"/>
<text x="236.80" y="535.90" font-size="9.0" fill="#222" textLength="43.80" lengthAdjust="spacingAndGlyphs">Facultative</text>
<rect x="302.20" y="528.20" width="8.00" height="8.00" fill="#f6a41c"/>
<text x="313.80" y="535.90" font-size="9.0" fill="#222" textLength="48.40" lengthAdjust="spacingAndGlyphs">Constitutive</text>
<rect x="380.00" y="528.20" width="8.00" height="8.00" fill="#a9d5e8"/>
<text x="391.60" y="535.90" font-size="9.0" fill="#222" textLength="51.20" lengthAdjust="spacingAndGlyphs">E8.5-specific</text>
<text x="626.40" y="437.90" font-size="10" fill="#222" textLength="53.80" lengthAdjust="spacingAndGlyphs">Allelic ratio</text>
<text x="621.60" y="451.20" font-size="10" fill="#222" textLength="64.20" lengthAdjust="spacingAndGlyphs">(Xi / (Xi + Xa))</text>
<rect x="640.20" y="458.80" width="5.80" height="28.00" fill="url(#gbar)"/>
<text x="650.60" y="462.20" font-size="8.4" fill="#222" textLength="16.20" lengthAdjust="spacingAndGlyphs">1.00</text>
<text x="650.60" y="476.00" font-size="8.4" fill="#222" textLength="18.40" lengthAdjust="spacingAndGlyphs">0.50</text>
<text x="650.60" y="489.80" font-size="8.4" fill="#222" textLength="5.00" lengthAdjust="spacingAndGlyphs">0</text>
<text x="392.00" y="562.10" font-size="15" fill="#000" font-weight="bold">i</text>
<text x="479.40" y="560.40" font-size="9.8" fill="#222" textLength="82.40" lengthAdjust="spacingAndGlyphs">RNA-seq ExE E8.5</text>
<rect x="432.30" y="567.60" width="182.50" height="182.80" fill="#fff" stroke="#5c5c5c" stroke-width="0.8"/>
<line x1="431.8" y1="750.2" x2="614.8" y2="567.2" stroke="#444" stroke-width="0.8" clip-path="url(#ci)"/>
<line x1="440.20" y1="750.40" x2="440.20" y2="755.40" stroke="#555" stroke-width="0.8" />
<text x="440.20" y="766.90" font-size="8.8" text-anchor="middle" fill="#222">0</text>
<line x1="427.60" y1="741.80" x2="432.30" y2="741.80" stroke="#555" stroke-width="0.8" />
<text x="423.40" y="744.90" font-size="8.8" text-anchor="end" fill="#222">0</text>
<line x1="481.70" y1="750.40" x2="481.70" y2="755.40" stroke="#555" stroke-width="0.8" />
<text x="481.70" y="766.90" font-size="8.8" text-anchor="middle" fill="#222">0.2</text>
<line x1="427.60" y1="700.30" x2="432.30" y2="700.30" stroke="#555" stroke-width="0.8" />
<text x="423.40" y="703.40" font-size="8.8" text-anchor="end" fill="#222">0.2</text>
<line x1="523.20" y1="750.40" x2="523.20" y2="755.40" stroke="#555" stroke-width="0.8" />
<text x="523.20" y="766.90" font-size="8.8" text-anchor="middle" fill="#222">0.4</text>
<line x1="427.60" y1="658.80" x2="432.30" y2="658.80" stroke="#555" stroke-width="0.8" />
<text x="423.40" y="661.90" font-size="8.8" text-anchor="end" fill="#222">0.4</text>
<line x1="564.70" y1="750.40" x2="564.70" y2="755.40" stroke="#555" stroke-width="0.8" />
<text x="564.70" y="766.90" font-size="8.8" text-anchor="middle" fill="#222">0.6</text>
<line x1="427.60" y1="617.30" x2="432.30" y2="617.30" stroke="#555" stroke-width="0.8" />
<text x="423.40" y="620.40" font-size="8.8" text-anchor="end" fill="#222">0.6</text>
<line x1="606.20" y1="750.40" x2="606.20" y2="755.40" stroke="#555" stroke-width="0.8" />
<text x="606.20" y="766.90" font-size="8.8" text-anchor="middle" fill="#222">0.8</text>
<line x1="427.60" y1="575.80" x2="432.30" y2="575.80" stroke="#555" stroke-width="0.8" />
<text x="423.40" y="578.90" font-size="8.8" text-anchor="end" fill="#222">0.8</text>
<text x="0.00" y="0.00" font-size="10" text-anchor="middle" fill="#222" textLength="174.30" lengthAdjust="spacingAndGlyphs" transform="translate(402.2,658.6) rotate(-90)">+rtTA +Dox (allelic ratio Xi / (Xi + Xa))</text>
<text x="436.70" y="783.60" font-size="10" fill="#222" textLength="174.40" lengthAdjust="spacingAndGlyphs">+rtTA −Dox (allelic ratio Xi / (Xi + Xa))</text>
<circle cx="545.30" cy="627.30" r="3.55" fill="#f6a41c"/>
<circle cx="545.50" cy="684.80" r="3.55" fill="#f6a41c"/>
<circle cx="495.50" cy="717.60" r="3.55" fill="#f6a41c"/>
<circle cx="502.30" cy="723.10" r="3.55" fill="#f6a41c"/>
<circle cx="478.00" cy="722.20" r="3.55" fill="#f6a41c"/>
<circle cx="513.60" cy="736.00" r="3.55" fill="#f6a41c"/>
<circle cx="547.70" cy="740.40" r="3.55" fill="#f6a41c"/>
<circle cx="505.00" cy="737.60" r="3.55" fill="#f6a41c"/>
<circle cx="557.40" cy="635.50" r="3.55" fill="#aed6e8"/>
<circle cx="576.80" cy="627.20" r="3.55" fill="#aed6e8"/>
<circle cx="519.40" cy="736.00" r="3.55" fill="#aed6e8"/>
<circle cx="543.00" cy="642.60" r="3.55" fill="#1d5c2f"/>
<circle cx="539.60" cy="656.50" r="3.55" fill="#1d5c2f"/>
<circle cx="492.70" cy="658.60" r="3.55" fill="#1d5c2f"/>
<circle cx="531.50" cy="698.40" r="3.55" fill="#1d5c2f"/>
<circle cx="525.50" cy="702.80" r="3.55" fill="#1d5c2f"/>
<circle cx="496.10" cy="700.20" r="3.55" fill="#1d5c2f"/>
<circle cx="494.40" cy="732.00" r="3.55" fill="#1d5c2f"/>
<circle cx="511.60" cy="733.50" r="3.55" fill="#1d5c2f"/>
<circle cx="574.70" cy="739.70" r="3.55" fill="#1d5c2f"/>
<circle cx="476.80" cy="732.00" r="3.55" fill="#1d5c2f"/>
<circle cx="481.20" cy="733.30" r="3.55" fill="#1d5c2f"/>
<circle cx="461.50" cy="736.50" r="3.55" fill="#1d5c2f"/>
<circle cx="465.50" cy="738.30" r="3.55" fill="#1d5c2f"/>
<circle cx="470.70" cy="739.10" r="3.55" fill="#1d5c2f"/>
<circle cx="478.60" cy="738.30" r="3.55" fill="#1d5c2f"/>
<circle cx="482.50" cy="740.40" r="3.55" fill="#1d5c2f"/>
<circle cx="486.50" cy="741.40" r="3.55" fill="#1d5c2f"/>
<circle cx="490.40" cy="741.00" r="3.55" fill="#1d5c2f"/>
<circle cx="495.70" cy="741.00" r="3.55" fill="#1d5c2f"/>
<circle cx="499.60" cy="741.40" r="3.55" fill="#1d5c2f"/>
<circle cx="503.60" cy="740.40" r="3.55" fill="#1d5c2f"/>
<circle cx="506.20" cy="739.10" r="3.55" fill="#1d5c2f"/>
<circle cx="508.80" cy="737.80" r="3.55" fill="#1d5c2f"/>
<circle cx="468.00" cy="740.60" r="3.55" fill="#1d5c2f"/>
<circle cx="474.60" cy="741.00" r="3.55" fill="#1d5c2f"/>
<circle cx="513.40" cy="738.60" r="3.55" fill="#1d5c2f"/>
<circle cx="458.60" cy="734.60" r="3.55" fill="#1d5c2f"/>
<circle cx="459.40" cy="738.30" r="3.55" fill="#aed6e8"/>
<circle cx="461.00" cy="741.00" r="3.55" fill="#aed6e8"/>
<circle cx="473.40" cy="740.40" r="3.55" fill="#aed6e8"/>
<circle cx="477.30" cy="736.50" r="3.55" fill="#aed6e8"/>
<circle cx="489.90" cy="737.30" r="3.55" fill="#aed6e8"/>
<circle cx="457.60" cy="737.30" r="3.55" fill="#aed6e8"/>
<circle cx="466.40" cy="740.80" r="3.55" fill="#aed6e8"/>
<circle cx="484.00" cy="738.60" r="3.55" fill="#aed6e8"/>
<circle cx="519.40" cy="736.00" r="3.55" fill="#aed6e8"/>
<line x1="470.50" y1="700.40" x2="491.80" y2="727.70" stroke="#1d5c2f" stroke-width="0.7" />
<line x1="527.50" y1="716.70" x2="509.30" y2="732.70" stroke="#1d5c2f" stroke-width="0.7" />
<text x="558.60" y="621.10" font-size="8.0" fill="#aed6e8" textLength="41.70" lengthAdjust="spacingAndGlyphs">Rpl19-ps12</text>
<text x="555.90" y="646.50" font-size="8.0" fill="#aed6e8" textLength="36.10" lengthAdjust="spacingAndGlyphs">Gm14639</text>
<text x="549.90" y="683.00" font-size="8.0" fill="#f6a41c" textLength="11.00" lengthAdjust="spacingAndGlyphs">Jpx</text>
<text x="535.40" y="696.60" font-size="8.0" fill="#1d5c2f" textLength="14.10" lengthAdjust="spacingAndGlyphs">Ogt</text>
<text x="511.50" y="697.80" font-size="8.0" fill="#1d5c2f" textLength="14.50" lengthAdjust="spacingAndGlyphs">Taf1</text>
<text x="459.20" y="696.60" font-size="8.0" fill="#1d5c2f" textLength="23.50" lengthAdjust="spacingAndGlyphs">Rps4x</text>
<text x="488.40" y="713.00" font-size="8.0" fill="#f6a41c" textLength="10.60" lengthAdjust="spacingAndGlyphs">Ftx</text>
<text x="501.30" y="718.30" font-size="8.0" fill="#f6a41c" textLength="25.40" lengthAdjust="spacingAndGlyphs">Utp14a</text>
<text x="528.60" y="717.50" font-size="8.0" fill="#1d5c2f" textLength="19.00" lengthAdjust="spacingAndGlyphs">Nkap</text>
<text x="455.40" y="717.50" font-size="8.0" fill="#f6a41c" textLength="26.50" lengthAdjust="spacingAndGlyphs">Kdm5c</text>
<text x="468.60" y="726.20" font-size="8.0" fill="#1d5c2f" textLength="15.20" lengthAdjust="spacingAndGlyphs">Atrx</text>
<text x="452.70" y="731.50" font-size="8.0" fill="#aed6e8" textLength="18.60" lengthAdjust="spacingAndGlyphs">Plac1</text>
<text x="518.70" y="731.90" font-size="8.0" fill="#f6a41c" textLength="26.60" lengthAdjust="spacingAndGlyphs">Kdm6a</text>
<text x="522.90" y="738.40" font-size="8.0" fill="#aed6e8" textLength="25.40" lengthAdjust="spacingAndGlyphs">Ndufa1</text>
<text x="548.70" y="736.50" font-size="8.0" fill="#f6a41c" textLength="22.40" lengthAdjust="spacingAndGlyphs">Pbdc1</text>
<text x="572.60" y="735.70" font-size="8.0" fill="#1d5c2f" textLength="22.40" lengthAdjust="spacingAndGlyphs">Rbm3</text>
<text x="511.50" y="747.50" font-size="8.0" fill="#1d5c2f" textLength="24.70" lengthAdjust="spacingAndGlyphs">Ercc6l</text>
<circle cx="622.30" cy="642.40" r="3.60" fill="#f6a41c"/>
<text x="630.80" y="645.50" font-size="9.0" fill="#222" textLength="48.40" lengthAdjust="spacingAndGlyphs">Constitutive</text>
<circle cx="622.30" cy="653.60" r="3.60" fill="#1d5c2f"/>
<text x="630.80" y="656.70" font-size="9.0" fill="#222" textLength="44.40" lengthAdjust="spacingAndGlyphs">Facultative</text>
<circle cx="622.30" cy="664.80" r="3.60" fill="#aed6e8"/>
<text x="630.80" y="667.90" font-size="9.0" fill="#222" textLength="51.40" lengthAdjust="spacingAndGlyphs">E8.5-specific</text>
</svg>
</body>
</html>
